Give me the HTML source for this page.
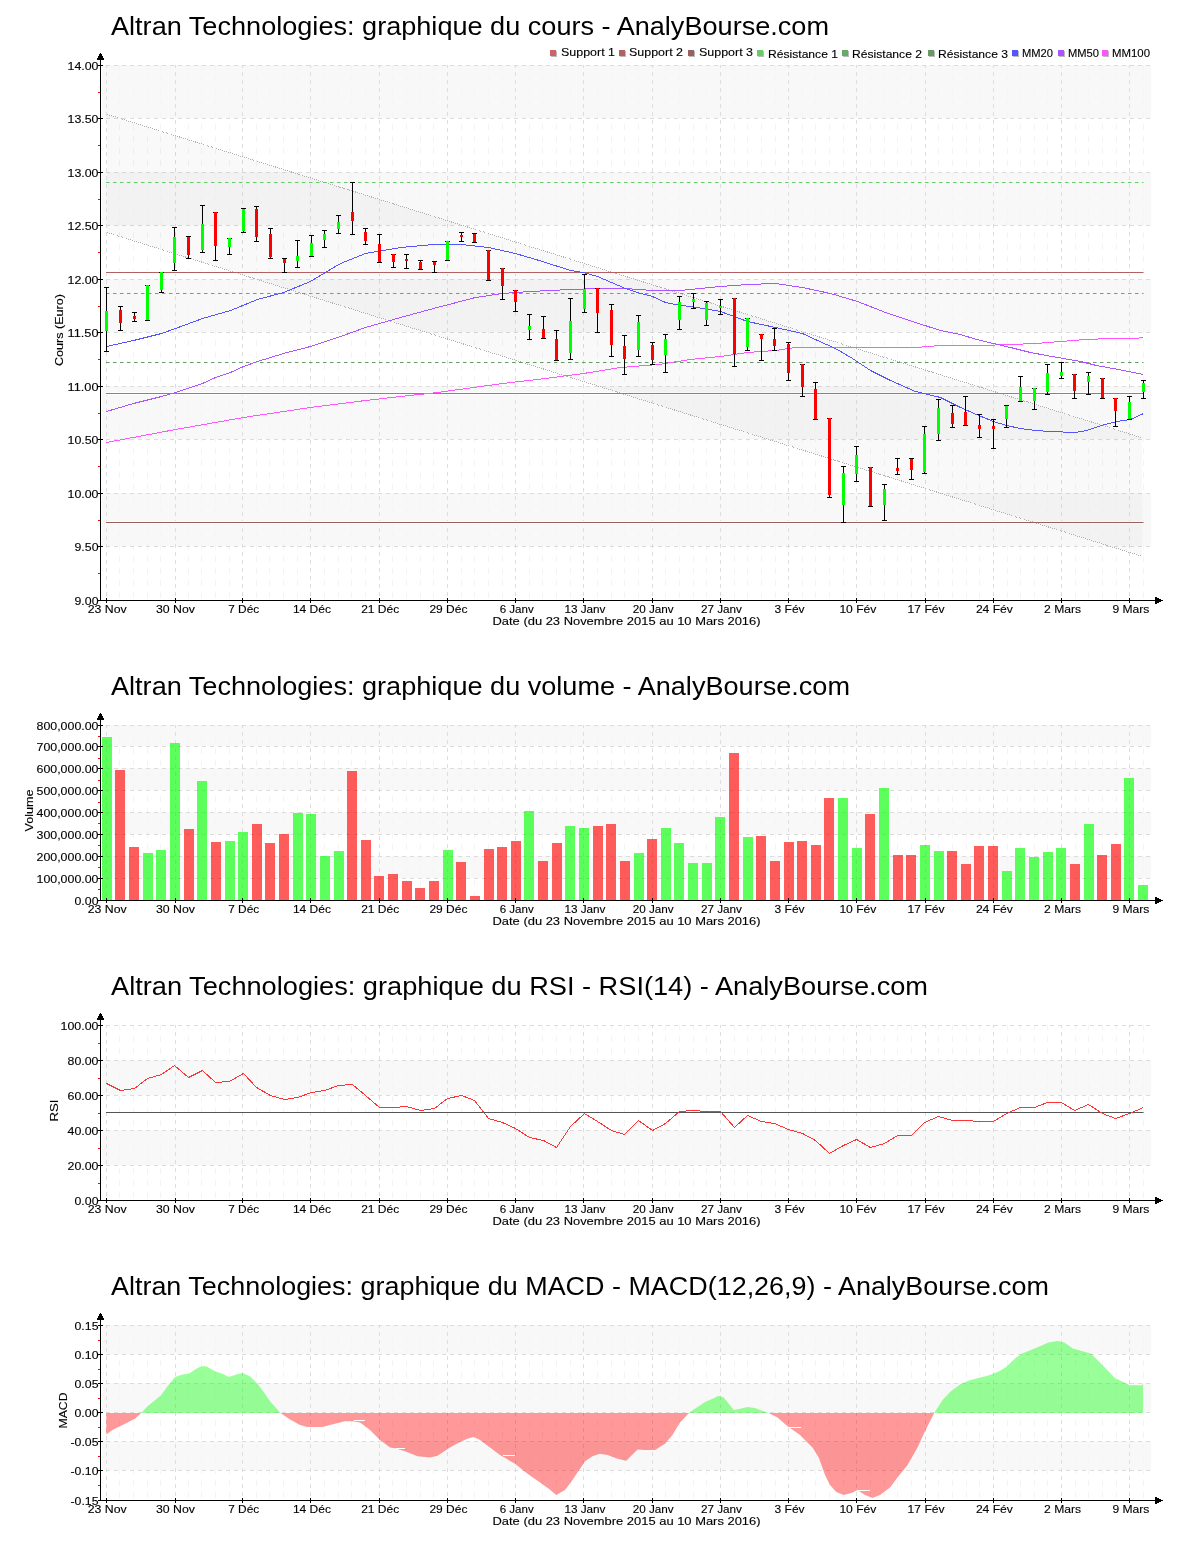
<!DOCTYPE html>
<html><head><meta charset="utf-8"><title>Altran Technologies - AnalyBourse</title>
<style>html,body{margin:0;padding:0;background:#fff;} svg{display:block;will-change:transform;}</style></head>
<body>
<svg width="1200" height="1550" viewBox="0 0 1200 1550" font-family='"Liberation Sans", sans-serif' fill="#000">
<rect width="1200" height="1550" fill="#fff"/>
<rect x="102" y="493" width="1049" height="53" fill="#f8f8f8"/>
<rect x="102" y="386" width="1049" height="53" fill="#f8f8f8"/>
<rect x="102" y="279" width="1049" height="53" fill="#f8f8f8"/>
<rect x="102" y="172" width="1049" height="53" fill="#f8f8f8"/>
<rect x="102" y="65" width="1049" height="53" fill="#f8f8f8"/>
<line x1="106.5" y1="65" x2="106.5" y2="600" stroke="#dedede" stroke-width="1" stroke-dasharray="4 4" stroke-dashoffset="1"/>
<line x1="119.5" y1="65" x2="119.5" y2="600" stroke="#f4f4f4" stroke-width="1" stroke-dasharray="6 6" stroke-dashoffset="1"/>
<line x1="133.5" y1="65" x2="133.5" y2="600" stroke="#f4f4f4" stroke-width="1" stroke-dasharray="6 6" stroke-dashoffset="1"/>
<line x1="147.5" y1="65" x2="147.5" y2="600" stroke="#f4f4f4" stroke-width="1" stroke-dasharray="6 6" stroke-dashoffset="1"/>
<line x1="160.5" y1="65" x2="160.5" y2="600" stroke="#f4f4f4" stroke-width="1" stroke-dasharray="6 6" stroke-dashoffset="1"/>
<line x1="175.5" y1="65" x2="175.5" y2="600" stroke="#dedede" stroke-width="1" stroke-dasharray="4 4" stroke-dashoffset="1"/>
<line x1="188.5" y1="65" x2="188.5" y2="600" stroke="#f4f4f4" stroke-width="1" stroke-dasharray="6 6" stroke-dashoffset="1"/>
<line x1="201.5" y1="65" x2="201.5" y2="600" stroke="#f4f4f4" stroke-width="1" stroke-dasharray="6 6" stroke-dashoffset="1"/>
<line x1="215.5" y1="65" x2="215.5" y2="600" stroke="#f4f4f4" stroke-width="1" stroke-dasharray="6 6" stroke-dashoffset="1"/>
<line x1="229.5" y1="65" x2="229.5" y2="600" stroke="#f4f4f4" stroke-width="1" stroke-dasharray="6 6" stroke-dashoffset="1"/>
<line x1="242.5" y1="65" x2="242.5" y2="600" stroke="#dedede" stroke-width="1" stroke-dasharray="4 4" stroke-dashoffset="1"/>
<line x1="256.5" y1="65" x2="256.5" y2="600" stroke="#f4f4f4" stroke-width="1" stroke-dasharray="6 6" stroke-dashoffset="1"/>
<line x1="269.5" y1="65" x2="269.5" y2="600" stroke="#f4f4f4" stroke-width="1" stroke-dasharray="6 6" stroke-dashoffset="1"/>
<line x1="283.5" y1="65" x2="283.5" y2="600" stroke="#f4f4f4" stroke-width="1" stroke-dasharray="6 6" stroke-dashoffset="1"/>
<line x1="297.5" y1="65" x2="297.5" y2="600" stroke="#f4f4f4" stroke-width="1" stroke-dasharray="6 6" stroke-dashoffset="1"/>
<line x1="310.5" y1="65" x2="310.5" y2="600" stroke="#dedede" stroke-width="1" stroke-dasharray="4 4" stroke-dashoffset="1"/>
<line x1="324.5" y1="65" x2="324.5" y2="600" stroke="#f4f4f4" stroke-width="1" stroke-dasharray="6 6" stroke-dashoffset="1"/>
<line x1="338.5" y1="65" x2="338.5" y2="600" stroke="#f4f4f4" stroke-width="1" stroke-dasharray="6 6" stroke-dashoffset="1"/>
<line x1="351.5" y1="65" x2="351.5" y2="600" stroke="#f4f4f4" stroke-width="1" stroke-dasharray="6 6" stroke-dashoffset="1"/>
<line x1="365.5" y1="65" x2="365.5" y2="600" stroke="#f4f4f4" stroke-width="1" stroke-dasharray="6 6" stroke-dashoffset="1"/>
<line x1="379.5" y1="65" x2="379.5" y2="600" stroke="#dedede" stroke-width="1" stroke-dasharray="4 4" stroke-dashoffset="1"/>
<line x1="392.5" y1="65" x2="392.5" y2="600" stroke="#f4f4f4" stroke-width="1" stroke-dasharray="6 6" stroke-dashoffset="1"/>
<line x1="406.5" y1="65" x2="406.5" y2="600" stroke="#f4f4f4" stroke-width="1" stroke-dasharray="6 6" stroke-dashoffset="1"/>
<line x1="420.5" y1="65" x2="420.5" y2="600" stroke="#f4f4f4" stroke-width="1" stroke-dasharray="6 6" stroke-dashoffset="1"/>
<line x1="433.5" y1="65" x2="433.5" y2="600" stroke="#f4f4f4" stroke-width="1" stroke-dasharray="6 6" stroke-dashoffset="1"/>
<line x1="447.5" y1="65" x2="447.5" y2="600" stroke="#dedede" stroke-width="1" stroke-dasharray="4 4" stroke-dashoffset="1"/>
<line x1="461.5" y1="65" x2="461.5" y2="600" stroke="#f4f4f4" stroke-width="1" stroke-dasharray="6 6" stroke-dashoffset="1"/>
<line x1="474.5" y1="65" x2="474.5" y2="600" stroke="#f4f4f4" stroke-width="1" stroke-dasharray="6 6" stroke-dashoffset="1"/>
<line x1="488.5" y1="65" x2="488.5" y2="600" stroke="#f4f4f4" stroke-width="1" stroke-dasharray="6 6" stroke-dashoffset="1"/>
<line x1="502.5" y1="65" x2="502.5" y2="600" stroke="#f4f4f4" stroke-width="1" stroke-dasharray="6 6" stroke-dashoffset="1"/>
<line x1="515.5" y1="65" x2="515.5" y2="600" stroke="#dedede" stroke-width="1" stroke-dasharray="4 4" stroke-dashoffset="1"/>
<line x1="529.5" y1="65" x2="529.5" y2="600" stroke="#f4f4f4" stroke-width="1" stroke-dasharray="6 6" stroke-dashoffset="1"/>
<line x1="542.5" y1="65" x2="542.5" y2="600" stroke="#f4f4f4" stroke-width="1" stroke-dasharray="6 6" stroke-dashoffset="1"/>
<line x1="556.5" y1="65" x2="556.5" y2="600" stroke="#f4f4f4" stroke-width="1" stroke-dasharray="6 6" stroke-dashoffset="1"/>
<line x1="570.5" y1="65" x2="570.5" y2="600" stroke="#f4f4f4" stroke-width="1" stroke-dasharray="6 6" stroke-dashoffset="1"/>
<line x1="583.5" y1="65" x2="583.5" y2="600" stroke="#dedede" stroke-width="1" stroke-dasharray="4 4" stroke-dashoffset="1"/>
<line x1="597.5" y1="65" x2="597.5" y2="600" stroke="#f4f4f4" stroke-width="1" stroke-dasharray="6 6" stroke-dashoffset="1"/>
<line x1="611.5" y1="65" x2="611.5" y2="600" stroke="#f4f4f4" stroke-width="1" stroke-dasharray="6 6" stroke-dashoffset="1"/>
<line x1="624.5" y1="65" x2="624.5" y2="600" stroke="#f4f4f4" stroke-width="1" stroke-dasharray="6 6" stroke-dashoffset="1"/>
<line x1="638.5" y1="65" x2="638.5" y2="600" stroke="#f4f4f4" stroke-width="1" stroke-dasharray="6 6" stroke-dashoffset="1"/>
<line x1="652.5" y1="65" x2="652.5" y2="600" stroke="#dedede" stroke-width="1" stroke-dasharray="4 4" stroke-dashoffset="1"/>
<line x1="665.5" y1="65" x2="665.5" y2="600" stroke="#f4f4f4" stroke-width="1" stroke-dasharray="6 6" stroke-dashoffset="1"/>
<line x1="679.5" y1="65" x2="679.5" y2="600" stroke="#f4f4f4" stroke-width="1" stroke-dasharray="6 6" stroke-dashoffset="1"/>
<line x1="693.5" y1="65" x2="693.5" y2="600" stroke="#f4f4f4" stroke-width="1" stroke-dasharray="6 6" stroke-dashoffset="1"/>
<line x1="706.5" y1="65" x2="706.5" y2="600" stroke="#f4f4f4" stroke-width="1" stroke-dasharray="6 6" stroke-dashoffset="1"/>
<line x1="720.5" y1="65" x2="720.5" y2="600" stroke="#dedede" stroke-width="1" stroke-dasharray="4 4" stroke-dashoffset="1"/>
<line x1="734.5" y1="65" x2="734.5" y2="600" stroke="#f4f4f4" stroke-width="1" stroke-dasharray="6 6" stroke-dashoffset="1"/>
<line x1="747.5" y1="65" x2="747.5" y2="600" stroke="#f4f4f4" stroke-width="1" stroke-dasharray="6 6" stroke-dashoffset="1"/>
<line x1="761.5" y1="65" x2="761.5" y2="600" stroke="#f4f4f4" stroke-width="1" stroke-dasharray="6 6" stroke-dashoffset="1"/>
<line x1="775.5" y1="65" x2="775.5" y2="600" stroke="#f4f4f4" stroke-width="1" stroke-dasharray="6 6" stroke-dashoffset="1"/>
<line x1="788.5" y1="65" x2="788.5" y2="600" stroke="#dedede" stroke-width="1" stroke-dasharray="4 4" stroke-dashoffset="1"/>
<line x1="802.5" y1="65" x2="802.5" y2="600" stroke="#f4f4f4" stroke-width="1" stroke-dasharray="6 6" stroke-dashoffset="1"/>
<line x1="815.5" y1="65" x2="815.5" y2="600" stroke="#f4f4f4" stroke-width="1" stroke-dasharray="6 6" stroke-dashoffset="1"/>
<line x1="829.5" y1="65" x2="829.5" y2="600" stroke="#f4f4f4" stroke-width="1" stroke-dasharray="6 6" stroke-dashoffset="1"/>
<line x1="843.5" y1="65" x2="843.5" y2="600" stroke="#f4f4f4" stroke-width="1" stroke-dasharray="6 6" stroke-dashoffset="1"/>
<line x1="856.5" y1="65" x2="856.5" y2="600" stroke="#dedede" stroke-width="1" stroke-dasharray="4 4" stroke-dashoffset="1"/>
<line x1="870.5" y1="65" x2="870.5" y2="600" stroke="#f4f4f4" stroke-width="1" stroke-dasharray="6 6" stroke-dashoffset="1"/>
<line x1="884.5" y1="65" x2="884.5" y2="600" stroke="#f4f4f4" stroke-width="1" stroke-dasharray="6 6" stroke-dashoffset="1"/>
<line x1="897.5" y1="65" x2="897.5" y2="600" stroke="#f4f4f4" stroke-width="1" stroke-dasharray="6 6" stroke-dashoffset="1"/>
<line x1="911.5" y1="65" x2="911.5" y2="600" stroke="#f4f4f4" stroke-width="1" stroke-dasharray="6 6" stroke-dashoffset="1"/>
<line x1="925.5" y1="65" x2="925.5" y2="600" stroke="#dedede" stroke-width="1" stroke-dasharray="4 4" stroke-dashoffset="1"/>
<line x1="938.5" y1="65" x2="938.5" y2="600" stroke="#f4f4f4" stroke-width="1" stroke-dasharray="6 6" stroke-dashoffset="1"/>
<line x1="952.5" y1="65" x2="952.5" y2="600" stroke="#f4f4f4" stroke-width="1" stroke-dasharray="6 6" stroke-dashoffset="1"/>
<line x1="966.5" y1="65" x2="966.5" y2="600" stroke="#f4f4f4" stroke-width="1" stroke-dasharray="6 6" stroke-dashoffset="1"/>
<line x1="979.5" y1="65" x2="979.5" y2="600" stroke="#f4f4f4" stroke-width="1" stroke-dasharray="6 6" stroke-dashoffset="1"/>
<line x1="993.5" y1="65" x2="993.5" y2="600" stroke="#dedede" stroke-width="1" stroke-dasharray="4 4" stroke-dashoffset="1"/>
<line x1="1007.5" y1="65" x2="1007.5" y2="600" stroke="#f4f4f4" stroke-width="1" stroke-dasharray="6 6" stroke-dashoffset="1"/>
<line x1="1020.5" y1="65" x2="1020.5" y2="600" stroke="#f4f4f4" stroke-width="1" stroke-dasharray="6 6" stroke-dashoffset="1"/>
<line x1="1034.5" y1="65" x2="1034.5" y2="600" stroke="#f4f4f4" stroke-width="1" stroke-dasharray="6 6" stroke-dashoffset="1"/>
<line x1="1047.5" y1="65" x2="1047.5" y2="600" stroke="#f4f4f4" stroke-width="1" stroke-dasharray="6 6" stroke-dashoffset="1"/>
<line x1="1061.5" y1="65" x2="1061.5" y2="600" stroke="#dedede" stroke-width="1" stroke-dasharray="4 4" stroke-dashoffset="1"/>
<line x1="1075.5" y1="65" x2="1075.5" y2="600" stroke="#f4f4f4" stroke-width="1" stroke-dasharray="6 6" stroke-dashoffset="1"/>
<line x1="1088.5" y1="65" x2="1088.5" y2="600" stroke="#f4f4f4" stroke-width="1" stroke-dasharray="6 6" stroke-dashoffset="1"/>
<line x1="1102.5" y1="65" x2="1102.5" y2="600" stroke="#f4f4f4" stroke-width="1" stroke-dasharray="6 6" stroke-dashoffset="1"/>
<line x1="1116.5" y1="65" x2="1116.5" y2="600" stroke="#f4f4f4" stroke-width="1" stroke-dasharray="6 6" stroke-dashoffset="1"/>
<line x1="1129.5" y1="65" x2="1129.5" y2="600" stroke="#dedede" stroke-width="1" stroke-dasharray="4 4" stroke-dashoffset="1"/>
<line x1="1143.5" y1="65" x2="1143.5" y2="600" stroke="#f4f4f4" stroke-width="1" stroke-dasharray="6 6" stroke-dashoffset="1"/>
<line x1="106" y1="65.5" x2="1151" y2="65.5" stroke="#dcdcdc" stroke-width="1" stroke-dasharray="4 4"/>
<line x1="106" y1="118.5" x2="1151" y2="118.5" stroke="#dcdcdc" stroke-width="1" stroke-dasharray="4 4"/>
<line x1="106" y1="172.5" x2="1151" y2="172.5" stroke="#dcdcdc" stroke-width="1" stroke-dasharray="4 4"/>
<line x1="106" y1="225.5" x2="1151" y2="225.5" stroke="#dcdcdc" stroke-width="1" stroke-dasharray="4 4"/>
<line x1="106" y1="279.5" x2="1151" y2="279.5" stroke="#dcdcdc" stroke-width="1" stroke-dasharray="4 4"/>
<line x1="106" y1="332.5" x2="1151" y2="332.5" stroke="#dcdcdc" stroke-width="1" stroke-dasharray="4 4"/>
<line x1="106" y1="386.5" x2="1151" y2="386.5" stroke="#dcdcdc" stroke-width="1" stroke-dasharray="4 4"/>
<line x1="106" y1="439.5" x2="1151" y2="439.5" stroke="#dcdcdc" stroke-width="1" stroke-dasharray="4 4"/>
<line x1="106" y1="493.5" x2="1151" y2="493.5" stroke="#dcdcdc" stroke-width="1" stroke-dasharray="4 4"/>
<line x1="106" y1="546.5" x2="1151" y2="546.5" stroke="#dcdcdc" stroke-width="1" stroke-dasharray="4 4"/>
<rect x="106" y="271.0" width="1038" height="3" fill="#fff" shape-rendering="crispEdges"/>
<rect x="106" y="392.0" width="1038" height="3" fill="#fff" shape-rendering="crispEdges"/>
<rect x="106" y="521.0" width="1038" height="3" fill="#fff" shape-rendering="crispEdges"/>
<path d="M106.8,114.3 L1142.1,437.8 L1142.1,556.3 L106.8,232.4 Z" fill="#000" fill-opacity="0.025"/>
<line x1="106.8" y1="114.3" x2="1142.1" y2="437.8" stroke="#b0b0b0" stroke-width="1" stroke-dasharray="1 1.05" shape-rendering="crispEdges"/>
<line x1="106.8" y1="232.4" x2="1142.1" y2="556.3" stroke="#b0b0b0" stroke-width="1" stroke-dasharray="1 1.05" shape-rendering="crispEdges"/>
<line x1="106" y1="182.5" x2="1143.5" y2="182.5" stroke="#66cc66" stroke-width="1" stroke-dasharray="3.5 3.5"/>
<line x1="106" y1="293.5" x2="1143.5" y2="293.5" stroke="#66aa66" stroke-width="1" stroke-dasharray="3.5 3.5"/>
<line x1="106" y1="362.5" x2="1143.5" y2="362.5" stroke="#669966" stroke-width="1" stroke-dasharray="3.5 3.5"/>
<line x1="106" y1="272.5" x2="1143.5" y2="272.5" stroke="#b36060" stroke-width="1"/>
<line x1="106" y1="393.5" x2="1143.5" y2="393.5" stroke="#cc6666" stroke-width="1"/>
<line x1="106" y1="522.5" x2="1143.5" y2="522.5" stroke="#996060" stroke-width="1"/>
<polyline points="106.5,442.5 175.5,429.5 243.5,417.5 310.5,407.5 365.5,400.5 400.5,396.5 437.5,392.5 502.5,383.5 545.5,378.5 583.5,373.5 620.5,367.5 658.5,364.5 690.5,359.5 720.5,356.5 747.5,352.5 775.5,350.5 795.5,347.5 830.5,347.5 865.5,347.5 915.5,347.5 940.5,345.5 980.5,345.5 1010.5,344.5 1035.5,343.5 1060.5,341.5 1085.5,339.5 1110.5,338.5 1135.5,338.5 1143.5,337.5" fill="none" stroke="#ff55ff" stroke-width="1" shape-rendering="crispEdges"/>
<polyline points="106.5,411.5 133.5,403.5 161.5,396.5 175.5,392.5 202.5,383.5 215.5,377.5 230.5,372.5 243.5,366.5 257.5,361.5 283.5,353.5 310.5,346.5 340.5,336.5 365.5,327.5 400.5,317.5 433.5,308.5 475.5,297.5 502.5,293.5 530.5,291.5 570.5,289.5 597.5,288.5 625.5,288.5 652.5,290.5 680.5,290.5 700.5,288.5 720.5,286.5 747.5,284.5 775.5,283.5 802.5,287.5 830.5,293.5 857.5,301.5 885.5,312.5 915.5,322.5 940.5,330.5 960.5,334.5 976.5,339.5 993.5,343.5 1010.5,347.5 1030.5,352.5 1046.5,355.5 1063.5,358.5 1080.5,361.5 1096.5,365.5 1118.5,369.5 1143.5,374.5" fill="none" stroke="#aa55ff" stroke-width="1" shape-rendering="crispEdges"/>
<polyline points="106.5,346.5 133.5,340.5 161.5,333.5 175.5,328.5 202.5,318.5 230.5,310.5 257.5,299.5 283.5,292.5 310.5,281.5 340.5,263.5 365.5,253.5 400.5,247.5 433.5,244.5 461.5,244.5 488.5,247.5 515.5,253.5 542.5,261.5 570.5,270.5 583.5,272.5 597.5,276.5 625.5,288.5 637.5,292.5 652.5,296.5 665.5,302.5 680.5,305.5 690.5,306.5 720.5,311.5 747.5,321.5 775.5,327.5 802.5,333.5 817.5,340.5 835.5,348.5 852.5,358.5 870.5,370.5 890.5,380.5 915.5,391.5 940.5,397.5 960.5,407.5 976.5,414.5 993.5,421.5 1006.5,425.5 1020.5,428.5 1035.5,430.5 1050.5,431.5 1075.5,432.5 1086.5,430.5 1101.5,425.5 1116.5,421.5 1130.5,419.5 1143.5,413.5" fill="none" stroke="#5555ff" stroke-width="1" shape-rendering="crispEdges"/>
<g shape-rendering="crispEdges">
<rect x="106" y="287" width="1" height="65" fill="#000"/>
<rect x="104" y="287" width="5" height="1" fill="#000"/>
<rect x="104" y="351" width="5" height="1" fill="#000"/>
<rect x="105" y="311" width="3" height="20" fill="#00ff00"/>
<rect x="120" y="306" width="1" height="25" fill="#000"/>
<rect x="118" y="306" width="5" height="1" fill="#000"/>
<rect x="118" y="330" width="5" height="1" fill="#000"/>
<rect x="119" y="310" width="3" height="13" fill="#ff0000"/>
<rect x="134" y="312" width="1" height="10" fill="#000"/>
<rect x="132" y="312" width="5" height="1" fill="#000"/>
<rect x="132" y="321" width="5" height="1" fill="#000"/>
<rect x="133" y="316" width="3" height="3" fill="#ff0000"/>
<rect x="147" y="285" width="1" height="36" fill="#000"/>
<rect x="145" y="285" width="5" height="1" fill="#000"/>
<rect x="145" y="320" width="5" height="1" fill="#000"/>
<rect x="146" y="285" width="3" height="35" fill="#00ff00"/>
<rect x="161" y="272" width="1" height="21" fill="#000"/>
<rect x="159" y="272" width="5" height="1" fill="#000"/>
<rect x="159" y="292" width="5" height="1" fill="#000"/>
<rect x="160" y="272" width="3" height="18" fill="#00ff00"/>
<rect x="174" y="227" width="1" height="44" fill="#000"/>
<rect x="172" y="227" width="5" height="1" fill="#000"/>
<rect x="172" y="270" width="5" height="1" fill="#000"/>
<rect x="173" y="237" width="3" height="26" fill="#00ff00"/>
<rect x="188" y="236" width="1" height="23" fill="#000"/>
<rect x="186" y="236" width="5" height="1" fill="#000"/>
<rect x="186" y="258" width="5" height="1" fill="#000"/>
<rect x="187" y="237" width="3" height="18" fill="#ff0000"/>
<rect x="202" y="205" width="1" height="48" fill="#000"/>
<rect x="200" y="205" width="5" height="1" fill="#000"/>
<rect x="200" y="252" width="5" height="1" fill="#000"/>
<rect x="201" y="224" width="3" height="26" fill="#00ff00"/>
<rect x="215" y="212" width="1" height="49" fill="#000"/>
<rect x="213" y="212" width="5" height="1" fill="#000"/>
<rect x="213" y="260" width="5" height="1" fill="#000"/>
<rect x="214" y="212" width="3" height="34" fill="#ff0000"/>
<rect x="229" y="238" width="1" height="17" fill="#000"/>
<rect x="227" y="238" width="5" height="1" fill="#000"/>
<rect x="227" y="254" width="5" height="1" fill="#000"/>
<rect x="228" y="238" width="3" height="9" fill="#00ff00"/>
<rect x="243" y="208" width="1" height="25" fill="#000"/>
<rect x="241" y="208" width="5" height="1" fill="#000"/>
<rect x="241" y="232" width="5" height="1" fill="#000"/>
<rect x="242" y="209" width="3" height="22" fill="#00ff00"/>
<rect x="256" y="206" width="1" height="36" fill="#000"/>
<rect x="254" y="206" width="5" height="1" fill="#000"/>
<rect x="254" y="241" width="5" height="1" fill="#000"/>
<rect x="255" y="209" width="3" height="28" fill="#ff0000"/>
<rect x="270" y="228" width="1" height="31" fill="#000"/>
<rect x="268" y="228" width="5" height="1" fill="#000"/>
<rect x="268" y="258" width="5" height="1" fill="#000"/>
<rect x="269" y="234" width="3" height="23" fill="#ff0000"/>
<rect x="284" y="258" width="1" height="15" fill="#000"/>
<rect x="282" y="258" width="5" height="1" fill="#000"/>
<rect x="282" y="272" width="5" height="1" fill="#000"/>
<rect x="283" y="259" width="3" height="4" fill="#ff0000"/>
<rect x="297" y="240" width="1" height="28" fill="#000"/>
<rect x="295" y="240" width="5" height="1" fill="#000"/>
<rect x="295" y="267" width="5" height="1" fill="#000"/>
<rect x="296" y="256" width="3" height="5" fill="#00ff00"/>
<rect x="311" y="235" width="1" height="22" fill="#000"/>
<rect x="309" y="235" width="5" height="1" fill="#000"/>
<rect x="309" y="256" width="5" height="1" fill="#000"/>
<rect x="310" y="243" width="3" height="13" fill="#00ff00"/>
<rect x="324" y="230" width="1" height="18" fill="#000"/>
<rect x="322" y="230" width="5" height="1" fill="#000"/>
<rect x="322" y="247" width="5" height="1" fill="#000"/>
<rect x="323" y="234" width="3" height="6" fill="#00ff00"/>
<rect x="338" y="215" width="1" height="19" fill="#000"/>
<rect x="336" y="215" width="5" height="1" fill="#000"/>
<rect x="336" y="233" width="5" height="1" fill="#000"/>
<rect x="337" y="222" width="3" height="7" fill="#00ff00"/>
<rect x="352" y="182" width="1" height="53" fill="#000"/>
<rect x="350" y="182" width="5" height="1" fill="#000"/>
<rect x="350" y="234" width="5" height="1" fill="#000"/>
<rect x="351" y="212" width="3" height="9" fill="#ff0000"/>
<rect x="365" y="228" width="1" height="17" fill="#000"/>
<rect x="363" y="228" width="5" height="1" fill="#000"/>
<rect x="363" y="244" width="5" height="1" fill="#000"/>
<rect x="364" y="232" width="3" height="9" fill="#ff0000"/>
<rect x="379" y="234" width="1" height="29" fill="#000"/>
<rect x="377" y="234" width="5" height="1" fill="#000"/>
<rect x="377" y="262" width="5" height="1" fill="#000"/>
<rect x="378" y="244" width="3" height="18" fill="#ff0000"/>
<rect x="393" y="254" width="1" height="14" fill="#000"/>
<rect x="391" y="254" width="5" height="1" fill="#000"/>
<rect x="391" y="267" width="5" height="1" fill="#000"/>
<rect x="392" y="254" width="3" height="8" fill="#ff0000"/>
<rect x="406" y="254" width="1" height="15" fill="#000"/>
<rect x="404" y="254" width="5" height="1" fill="#000"/>
<rect x="404" y="268" width="5" height="1" fill="#000"/>
<rect x="405" y="259" width="3" height="2" fill="#ff0000"/>
<rect x="420" y="260" width="1" height="10" fill="#000"/>
<rect x="418" y="260" width="5" height="1" fill="#000"/>
<rect x="418" y="269" width="5" height="1" fill="#000"/>
<rect x="419" y="262" width="3" height="7" fill="#ff0000"/>
<rect x="434" y="261" width="1" height="12" fill="#000"/>
<rect x="432" y="261" width="5" height="1" fill="#000"/>
<rect x="432" y="272" width="5" height="1" fill="#000"/>
<rect x="433" y="262" width="3" height="3" fill="#ff0000"/>
<rect x="447" y="241" width="1" height="20" fill="#000"/>
<rect x="445" y="241" width="5" height="1" fill="#000"/>
<rect x="445" y="260" width="5" height="1" fill="#000"/>
<rect x="446" y="241" width="3" height="19" fill="#00ff00"/>
<rect x="461" y="232" width="1" height="10" fill="#000"/>
<rect x="459" y="232" width="5" height="1" fill="#000"/>
<rect x="459" y="241" width="5" height="1" fill="#000"/>
<rect x="460" y="235" width="3" height="2" fill="#ff0000"/>
<rect x="474" y="233" width="1" height="10" fill="#000"/>
<rect x="472" y="233" width="5" height="1" fill="#000"/>
<rect x="472" y="242" width="5" height="1" fill="#000"/>
<rect x="473" y="234" width="3" height="8" fill="#ff0000"/>
<rect x="488" y="250" width="1" height="31" fill="#000"/>
<rect x="486" y="250" width="5" height="1" fill="#000"/>
<rect x="486" y="280" width="5" height="1" fill="#000"/>
<rect x="487" y="250" width="3" height="30" fill="#ff0000"/>
<rect x="502" y="268" width="1" height="32" fill="#000"/>
<rect x="500" y="268" width="5" height="1" fill="#000"/>
<rect x="500" y="299" width="5" height="1" fill="#000"/>
<rect x="501" y="268" width="3" height="18" fill="#ff0000"/>
<rect x="515" y="290" width="1" height="22" fill="#000"/>
<rect x="513" y="290" width="5" height="1" fill="#000"/>
<rect x="513" y="311" width="5" height="1" fill="#000"/>
<rect x="514" y="290" width="3" height="12" fill="#ff0000"/>
<rect x="529" y="314" width="1" height="26" fill="#000"/>
<rect x="527" y="314" width="5" height="1" fill="#000"/>
<rect x="527" y="339" width="5" height="1" fill="#000"/>
<rect x="528" y="326" width="3" height="4" fill="#00ff00"/>
<rect x="543" y="316" width="1" height="23" fill="#000"/>
<rect x="541" y="316" width="5" height="1" fill="#000"/>
<rect x="541" y="338" width="5" height="1" fill="#000"/>
<rect x="542" y="329" width="3" height="9" fill="#ff0000"/>
<rect x="556" y="330" width="1" height="31" fill="#000"/>
<rect x="554" y="330" width="5" height="1" fill="#000"/>
<rect x="554" y="360" width="5" height="1" fill="#000"/>
<rect x="555" y="339" width="3" height="21" fill="#ff0000"/>
<rect x="570" y="298" width="1" height="62" fill="#000"/>
<rect x="568" y="298" width="5" height="1" fill="#000"/>
<rect x="568" y="359" width="5" height="1" fill="#000"/>
<rect x="569" y="321" width="3" height="32" fill="#00ff00"/>
<rect x="584" y="274" width="1" height="39" fill="#000"/>
<rect x="582" y="274" width="5" height="1" fill="#000"/>
<rect x="582" y="312" width="5" height="1" fill="#000"/>
<rect x="583" y="289" width="3" height="20" fill="#00ff00"/>
<rect x="597" y="288" width="1" height="45" fill="#000"/>
<rect x="595" y="288" width="5" height="1" fill="#000"/>
<rect x="595" y="332" width="5" height="1" fill="#000"/>
<rect x="596" y="288" width="3" height="25" fill="#ff0000"/>
<rect x="611" y="304" width="1" height="53" fill="#000"/>
<rect x="609" y="304" width="5" height="1" fill="#000"/>
<rect x="609" y="356" width="5" height="1" fill="#000"/>
<rect x="610" y="310" width="3" height="35" fill="#ff0000"/>
<rect x="624" y="335" width="1" height="40" fill="#000"/>
<rect x="622" y="335" width="5" height="1" fill="#000"/>
<rect x="622" y="374" width="5" height="1" fill="#000"/>
<rect x="623" y="346" width="3" height="13" fill="#ff0000"/>
<rect x="638" y="315" width="1" height="42" fill="#000"/>
<rect x="636" y="315" width="5" height="1" fill="#000"/>
<rect x="636" y="356" width="5" height="1" fill="#000"/>
<rect x="637" y="322" width="3" height="28" fill="#00ff00"/>
<rect x="652" y="342" width="1" height="23" fill="#000"/>
<rect x="650" y="342" width="5" height="1" fill="#000"/>
<rect x="650" y="364" width="5" height="1" fill="#000"/>
<rect x="651" y="345" width="3" height="15" fill="#ff0000"/>
<rect x="665" y="334" width="1" height="39" fill="#000"/>
<rect x="663" y="334" width="5" height="1" fill="#000"/>
<rect x="663" y="372" width="5" height="1" fill="#000"/>
<rect x="664" y="339" width="3" height="16" fill="#00ff00"/>
<rect x="679" y="296" width="1" height="34" fill="#000"/>
<rect x="677" y="296" width="5" height="1" fill="#000"/>
<rect x="677" y="329" width="5" height="1" fill="#000"/>
<rect x="678" y="302" width="3" height="18" fill="#00ff00"/>
<rect x="693" y="293" width="1" height="16" fill="#000"/>
<rect x="691" y="293" width="5" height="1" fill="#000"/>
<rect x="691" y="308" width="5" height="1" fill="#000"/>
<rect x="692" y="299" width="3" height="3" fill="#00ff00"/>
<rect x="706" y="301" width="1" height="25" fill="#000"/>
<rect x="704" y="301" width="5" height="1" fill="#000"/>
<rect x="704" y="325" width="5" height="1" fill="#000"/>
<rect x="705" y="303" width="3" height="17" fill="#00ff00"/>
<rect x="720" y="299" width="1" height="16" fill="#000"/>
<rect x="718" y="299" width="5" height="1" fill="#000"/>
<rect x="718" y="314" width="5" height="1" fill="#000"/>
<rect x="719" y="306" width="3" height="2" fill="#00ff00"/>
<rect x="734" y="298" width="1" height="69" fill="#000"/>
<rect x="732" y="298" width="5" height="1" fill="#000"/>
<rect x="732" y="366" width="5" height="1" fill="#000"/>
<rect x="733" y="298" width="3" height="56" fill="#ff0000"/>
<rect x="747" y="318" width="1" height="33" fill="#000"/>
<rect x="745" y="318" width="5" height="1" fill="#000"/>
<rect x="745" y="350" width="5" height="1" fill="#000"/>
<rect x="746" y="318" width="3" height="29" fill="#00ff00"/>
<rect x="761" y="334" width="1" height="27" fill="#000"/>
<rect x="759" y="334" width="5" height="1" fill="#000"/>
<rect x="759" y="360" width="5" height="1" fill="#000"/>
<rect x="760" y="334" width="3" height="5" fill="#ff0000"/>
<rect x="774" y="328" width="1" height="23" fill="#000"/>
<rect x="772" y="328" width="5" height="1" fill="#000"/>
<rect x="772" y="350" width="5" height="1" fill="#000"/>
<rect x="773" y="339" width="3" height="7" fill="#ff0000"/>
<rect x="788" y="342" width="1" height="39" fill="#000"/>
<rect x="786" y="342" width="5" height="1" fill="#000"/>
<rect x="786" y="380" width="5" height="1" fill="#000"/>
<rect x="787" y="344" width="3" height="29" fill="#ff0000"/>
<rect x="802" y="364" width="1" height="33" fill="#000"/>
<rect x="800" y="364" width="5" height="1" fill="#000"/>
<rect x="800" y="396" width="5" height="1" fill="#000"/>
<rect x="801" y="364" width="3" height="23" fill="#ff0000"/>
<rect x="815" y="382" width="1" height="38" fill="#000"/>
<rect x="813" y="382" width="5" height="1" fill="#000"/>
<rect x="813" y="419" width="5" height="1" fill="#000"/>
<rect x="814" y="389" width="3" height="30" fill="#ff0000"/>
<rect x="829" y="418" width="1" height="80" fill="#000"/>
<rect x="827" y="418" width="5" height="1" fill="#000"/>
<rect x="827" y="497" width="5" height="1" fill="#000"/>
<rect x="828" y="418" width="3" height="77" fill="#ff0000"/>
<rect x="843" y="466" width="1" height="57" fill="#000"/>
<rect x="841" y="466" width="5" height="1" fill="#000"/>
<rect x="841" y="522" width="5" height="1" fill="#000"/>
<rect x="842" y="473" width="3" height="32" fill="#00ff00"/>
<rect x="856" y="446" width="1" height="36" fill="#000"/>
<rect x="854" y="446" width="5" height="1" fill="#000"/>
<rect x="854" y="481" width="5" height="1" fill="#000"/>
<rect x="855" y="455" width="3" height="19" fill="#00ff00"/>
<rect x="870" y="467" width="1" height="40" fill="#000"/>
<rect x="868" y="467" width="5" height="1" fill="#000"/>
<rect x="868" y="506" width="5" height="1" fill="#000"/>
<rect x="869" y="467" width="3" height="39" fill="#ff0000"/>
<rect x="884" y="484" width="1" height="37" fill="#000"/>
<rect x="882" y="484" width="5" height="1" fill="#000"/>
<rect x="882" y="520" width="5" height="1" fill="#000"/>
<rect x="883" y="489" width="3" height="16" fill="#00ff00"/>
<rect x="897" y="458" width="1" height="17" fill="#000"/>
<rect x="895" y="458" width="5" height="1" fill="#000"/>
<rect x="895" y="474" width="5" height="1" fill="#000"/>
<rect x="896" y="468" width="3" height="3" fill="#ff0000"/>
<rect x="911" y="458" width="1" height="22" fill="#000"/>
<rect x="909" y="458" width="5" height="1" fill="#000"/>
<rect x="909" y="479" width="5" height="1" fill="#000"/>
<rect x="910" y="459" width="3" height="11" fill="#ff0000"/>
<rect x="924" y="426" width="1" height="48" fill="#000"/>
<rect x="922" y="426" width="5" height="1" fill="#000"/>
<rect x="922" y="473" width="5" height="1" fill="#000"/>
<rect x="923" y="434" width="3" height="38" fill="#00ff00"/>
<rect x="938" y="399" width="1" height="42" fill="#000"/>
<rect x="936" y="399" width="5" height="1" fill="#000"/>
<rect x="936" y="440" width="5" height="1" fill="#000"/>
<rect x="937" y="408" width="3" height="26" fill="#00ff00"/>
<rect x="952" y="405" width="1" height="23" fill="#000"/>
<rect x="950" y="405" width="5" height="1" fill="#000"/>
<rect x="950" y="427" width="5" height="1" fill="#000"/>
<rect x="951" y="413" width="3" height="11" fill="#ff0000"/>
<rect x="965" y="396" width="1" height="30" fill="#000"/>
<rect x="963" y="396" width="5" height="1" fill="#000"/>
<rect x="963" y="425" width="5" height="1" fill="#000"/>
<rect x="964" y="412" width="3" height="13" fill="#ff0000"/>
<rect x="979" y="414" width="1" height="24" fill="#000"/>
<rect x="977" y="414" width="5" height="1" fill="#000"/>
<rect x="977" y="437" width="5" height="1" fill="#000"/>
<rect x="978" y="425" width="3" height="4" fill="#ff0000"/>
<rect x="993" y="419" width="1" height="30" fill="#000"/>
<rect x="991" y="419" width="5" height="1" fill="#000"/>
<rect x="991" y="448" width="5" height="1" fill="#000"/>
<rect x="992" y="426" width="3" height="3" fill="#ff0000"/>
<rect x="1006" y="405" width="1" height="23" fill="#000"/>
<rect x="1004" y="405" width="5" height="1" fill="#000"/>
<rect x="1004" y="427" width="5" height="1" fill="#000"/>
<rect x="1005" y="406" width="3" height="13" fill="#00ff00"/>
<rect x="1020" y="376" width="1" height="26" fill="#000"/>
<rect x="1018" y="376" width="5" height="1" fill="#000"/>
<rect x="1018" y="401" width="5" height="1" fill="#000"/>
<rect x="1019" y="387" width="3" height="14" fill="#00ff00"/>
<rect x="1034" y="388" width="1" height="22" fill="#000"/>
<rect x="1032" y="388" width="5" height="1" fill="#000"/>
<rect x="1032" y="409" width="5" height="1" fill="#000"/>
<rect x="1033" y="388" width="3" height="13" fill="#00ff00"/>
<rect x="1047" y="364" width="1" height="31" fill="#000"/>
<rect x="1045" y="364" width="5" height="1" fill="#000"/>
<rect x="1045" y="394" width="5" height="1" fill="#000"/>
<rect x="1046" y="373" width="3" height="19" fill="#00ff00"/>
<rect x="1061" y="362" width="1" height="17" fill="#000"/>
<rect x="1059" y="362" width="5" height="1" fill="#000"/>
<rect x="1059" y="378" width="5" height="1" fill="#000"/>
<rect x="1060" y="372" width="3" height="4" fill="#00ff00"/>
<rect x="1074" y="374" width="1" height="25" fill="#000"/>
<rect x="1072" y="374" width="5" height="1" fill="#000"/>
<rect x="1072" y="398" width="5" height="1" fill="#000"/>
<rect x="1073" y="374" width="3" height="17" fill="#ff0000"/>
<rect x="1088" y="372" width="1" height="23" fill="#000"/>
<rect x="1086" y="372" width="5" height="1" fill="#000"/>
<rect x="1086" y="394" width="5" height="1" fill="#000"/>
<rect x="1087" y="376" width="3" height="6" fill="#00ff00"/>
<rect x="1102" y="378" width="1" height="21" fill="#000"/>
<rect x="1100" y="378" width="5" height="1" fill="#000"/>
<rect x="1100" y="398" width="5" height="1" fill="#000"/>
<rect x="1101" y="378" width="3" height="20" fill="#ff0000"/>
<rect x="1115" y="398" width="1" height="29" fill="#000"/>
<rect x="1113" y="398" width="5" height="1" fill="#000"/>
<rect x="1113" y="426" width="5" height="1" fill="#000"/>
<rect x="1114" y="398" width="3" height="13" fill="#ff0000"/>
<rect x="1129" y="396" width="1" height="24" fill="#000"/>
<rect x="1127" y="396" width="5" height="1" fill="#000"/>
<rect x="1127" y="419" width="5" height="1" fill="#000"/>
<rect x="1128" y="402" width="3" height="17" fill="#00ff00"/>
<rect x="1143" y="380" width="1" height="19" fill="#000"/>
<rect x="1141" y="380" width="5" height="1" fill="#000"/>
<rect x="1141" y="398" width="5" height="1" fill="#000"/>
<rect x="1142" y="383" width="3" height="9" fill="#00ff00"/>
</g>
<g shape-rendering="crispEdges">
<rect x="100" y="53" width="1" height="548" fill="#000"/>
<rect x="99" y="54" width="3" height="2" fill="#000"/>
<rect x="98" y="56" width="5" height="2" fill="#000"/>
<rect x="97" y="58" width="7" height="2" fill="#000"/>
<rect x="100" y="600" width="1063" height="1" fill="#000"/>
<rect x="1155" y="597" width="2" height="7" fill="#000"/>
<rect x="1157" y="598" width="2" height="5" fill="#000"/>
<rect x="1159" y="599" width="2" height="3" fill="#000"/>
</g>
<rect x="98" y="65" width="5" height="1" fill="#000"/>
<text x="98.5" y="70" font-size="11" text-anchor="end" textLength="31" lengthAdjust="spacingAndGlyphs" stroke="#000" stroke-width="0.12">14.00</text>
<rect x="98" y="118" width="5" height="1" fill="#000"/>
<text x="98.5" y="123" font-size="11" text-anchor="end" textLength="31" lengthAdjust="spacingAndGlyphs" stroke="#000" stroke-width="0.12">13.50</text>
<rect x="98" y="172" width="5" height="1" fill="#000"/>
<text x="98.5" y="177" font-size="11" text-anchor="end" textLength="31" lengthAdjust="spacingAndGlyphs" stroke="#000" stroke-width="0.12">13.00</text>
<rect x="98" y="225" width="5" height="1" fill="#000"/>
<text x="98.5" y="230" font-size="11" text-anchor="end" textLength="31" lengthAdjust="spacingAndGlyphs" stroke="#000" stroke-width="0.12">12.50</text>
<rect x="98" y="279" width="5" height="1" fill="#000"/>
<text x="98.5" y="284" font-size="11" text-anchor="end" textLength="31" lengthAdjust="spacingAndGlyphs" stroke="#000" stroke-width="0.12">12.00</text>
<rect x="98" y="332" width="5" height="1" fill="#000"/>
<text x="98.5" y="337" font-size="11" text-anchor="end" textLength="31" lengthAdjust="spacingAndGlyphs" stroke="#000" stroke-width="0.12">11.50</text>
<rect x="98" y="386" width="5" height="1" fill="#000"/>
<text x="98.5" y="391" font-size="11" text-anchor="end" textLength="31" lengthAdjust="spacingAndGlyphs" stroke="#000" stroke-width="0.12">11.00</text>
<rect x="98" y="439" width="5" height="1" fill="#000"/>
<text x="98.5" y="444" font-size="11" text-anchor="end" textLength="31" lengthAdjust="spacingAndGlyphs" stroke="#000" stroke-width="0.12">10.50</text>
<rect x="98" y="493" width="5" height="1" fill="#000"/>
<text x="98.5" y="498" font-size="11" text-anchor="end" textLength="31" lengthAdjust="spacingAndGlyphs" stroke="#000" stroke-width="0.12">10.00</text>
<rect x="98" y="546" width="5" height="1" fill="#000"/>
<text x="98.5" y="551" font-size="11" text-anchor="end" textLength="24" lengthAdjust="spacingAndGlyphs" stroke="#000" stroke-width="0.12">9.50</text>
<rect x="98" y="600" width="5" height="1" fill="#000"/>
<text x="98.5" y="605" font-size="11" text-anchor="end" textLength="24" lengthAdjust="spacingAndGlyphs" stroke="#000" stroke-width="0.12">9.00</text>
<rect x="98" y="92" width="2" height="1" fill="#ff0000"/>
<rect x="98" y="145" width="2" height="1" fill="#ff0000"/>
<rect x="98" y="199" width="2" height="1" fill="#ff0000"/>
<rect x="98" y="252" width="2" height="1" fill="#ff0000"/>
<rect x="98" y="306" width="2" height="1" fill="#ff0000"/>
<rect x="98" y="359" width="2" height="1" fill="#ff0000"/>
<rect x="98" y="413" width="2" height="1" fill="#ff0000"/>
<rect x="98" y="466" width="2" height="1" fill="#ff0000"/>
<rect x="98" y="520" width="2" height="1" fill="#ff0000"/>
<rect x="98" y="573" width="2" height="1" fill="#ff0000"/>
<rect x="106" y="598" width="1" height="5" fill="#000"/>
<rect x="175" y="598" width="1" height="5" fill="#000"/>
<rect x="242" y="598" width="1" height="5" fill="#000"/>
<rect x="310" y="598" width="1" height="5" fill="#000"/>
<rect x="379" y="598" width="1" height="5" fill="#000"/>
<rect x="447" y="598" width="1" height="5" fill="#000"/>
<rect x="515" y="598" width="1" height="5" fill="#000"/>
<rect x="583" y="598" width="1" height="5" fill="#000"/>
<rect x="652" y="598" width="1" height="5" fill="#000"/>
<rect x="720" y="598" width="1" height="5" fill="#000"/>
<rect x="788" y="598" width="1" height="5" fill="#000"/>
<rect x="856" y="598" width="1" height="5" fill="#000"/>
<rect x="925" y="598" width="1" height="5" fill="#000"/>
<rect x="993" y="598" width="1" height="5" fill="#000"/>
<rect x="1061" y="598" width="1" height="5" fill="#000"/>
<rect x="1129" y="598" width="1" height="5" fill="#000"/>
<text x="107.2" y="613" font-size="11" text-anchor="middle" textLength="39" lengthAdjust="spacingAndGlyphs" stroke="#000" stroke-width="0.12">23 Nov</text>
<text x="175.4" y="613" font-size="11" text-anchor="middle" textLength="39" lengthAdjust="spacingAndGlyphs" stroke="#000" stroke-width="0.12">30 Nov</text>
<text x="243.7" y="613" font-size="11" text-anchor="middle" textLength="31" lengthAdjust="spacingAndGlyphs" stroke="#000" stroke-width="0.12">7 Déc</text>
<text x="311.9" y="613" font-size="11" text-anchor="middle" textLength="38" lengthAdjust="spacingAndGlyphs" stroke="#000" stroke-width="0.12">14 Déc</text>
<text x="380.2" y="613" font-size="11" text-anchor="middle" textLength="38" lengthAdjust="spacingAndGlyphs" stroke="#000" stroke-width="0.12">21 Déc</text>
<text x="448.4" y="613" font-size="11" text-anchor="middle" textLength="38" lengthAdjust="spacingAndGlyphs" stroke="#000" stroke-width="0.12">29 Déc</text>
<text x="516.7" y="613" font-size="11" text-anchor="middle" textLength="34" lengthAdjust="spacingAndGlyphs" stroke="#000" stroke-width="0.12">6 Janv</text>
<text x="584.9" y="613" font-size="11" text-anchor="middle" textLength="41" lengthAdjust="spacingAndGlyphs" stroke="#000" stroke-width="0.12">13 Janv</text>
<text x="653.2" y="613" font-size="11" text-anchor="middle" textLength="41" lengthAdjust="spacingAndGlyphs" stroke="#000" stroke-width="0.12">20 Janv</text>
<text x="721.4" y="613" font-size="11" text-anchor="middle" textLength="41" lengthAdjust="spacingAndGlyphs" stroke="#000" stroke-width="0.12">27 Janv</text>
<text x="789.6" y="613" font-size="11" text-anchor="middle" textLength="30" lengthAdjust="spacingAndGlyphs" stroke="#000" stroke-width="0.12">3 Fév</text>
<text x="857.9" y="613" font-size="11" text-anchor="middle" textLength="37" lengthAdjust="spacingAndGlyphs" stroke="#000" stroke-width="0.12">10 Fév</text>
<text x="926.1" y="613" font-size="11" text-anchor="middle" textLength="37" lengthAdjust="spacingAndGlyphs" stroke="#000" stroke-width="0.12">17 Fév</text>
<text x="994.4" y="613" font-size="11" text-anchor="middle" textLength="37" lengthAdjust="spacingAndGlyphs" stroke="#000" stroke-width="0.12">24 Fév</text>
<text x="1062.6" y="613" font-size="11" text-anchor="middle" textLength="37" lengthAdjust="spacingAndGlyphs" stroke="#000" stroke-width="0.12">2 Mars</text>
<text x="1130.9" y="613" font-size="11" text-anchor="middle" textLength="37" lengthAdjust="spacingAndGlyphs" stroke="#000" stroke-width="0.12">9 Mars</text>
<text x="626.5" y="624.7" font-size="11" text-anchor="middle" textLength="268" lengthAdjust="spacingAndGlyphs" stroke="#000" stroke-width="0.12">Date (du 23 Novembre 2015 au 10 Mars 2016)</text>
<text x="62.5" y="330" font-size="11" text-anchor="middle" textLength="72" lengthAdjust="spacingAndGlyphs" transform="rotate(-90 62.5 330)" stroke="#000" stroke-width="0.12">Cours (Euro)</text>
<text x="111" y="35" font-size="25.5" text-anchor="start" textLength="718" lengthAdjust="spacingAndGlyphs">Altran Technologies: graphique du cours - AnalyBourse.com</text>
<rect x="551" y="51" width="6" height="6" fill="#bbb"/>
<rect x="550" y="50" width="6" height="6" fill="#cc6666"/>
<text x="561" y="56" font-size="11" text-anchor="start" textLength="54" lengthAdjust="spacingAndGlyphs" stroke="#000" stroke-width="0.12">Support 1</text>
<rect x="620" y="51" width="6" height="6" fill="#bbb"/>
<rect x="619" y="50" width="6" height="6" fill="#b36060"/>
<text x="629" y="56" font-size="11" text-anchor="start" textLength="54" lengthAdjust="spacingAndGlyphs" stroke="#000" stroke-width="0.12">Support 2</text>
<rect x="689" y="51" width="6" height="6" fill="#bbb"/>
<rect x="688" y="50" width="6" height="6" fill="#996060"/>
<text x="699" y="56" font-size="11" text-anchor="start" textLength="54" lengthAdjust="spacingAndGlyphs" stroke="#000" stroke-width="0.12">Support 3</text>
<rect x="758" y="51" width="6" height="6" fill="#bbb"/>
<rect x="757" y="50" width="6" height="6" fill="#66cc66"/>
<text x="768" y="57.5" font-size="11" text-anchor="start" textLength="70" lengthAdjust="spacingAndGlyphs" stroke="#000" stroke-width="0.12">Résistance 1</text>
<rect x="843" y="51" width="6" height="6" fill="#bbb"/>
<rect x="842" y="50" width="6" height="6" fill="#66aa66"/>
<text x="852" y="57.5" font-size="11" text-anchor="start" textLength="70" lengthAdjust="spacingAndGlyphs" stroke="#000" stroke-width="0.12">Résistance 2</text>
<rect x="929" y="51" width="6" height="6" fill="#bbb"/>
<rect x="928" y="50" width="6" height="6" fill="#669966"/>
<text x="938" y="57.5" font-size="11" text-anchor="start" textLength="70" lengthAdjust="spacingAndGlyphs" stroke="#000" stroke-width="0.12">Résistance 3</text>
<rect x="1013" y="51" width="6" height="6" fill="#bbb"/>
<rect x="1012" y="50" width="6" height="6" fill="#5555ff"/>
<text x="1022" y="57" font-size="11" text-anchor="start" textLength="31" lengthAdjust="spacingAndGlyphs" stroke="#000" stroke-width="0.12">MM20</text>
<rect x="1059" y="51" width="6" height="6" fill="#bbb"/>
<rect x="1058" y="50" width="6" height="6" fill="#aa55ff"/>
<text x="1068" y="57" font-size="11" text-anchor="start" textLength="31" lengthAdjust="spacingAndGlyphs" stroke="#000" stroke-width="0.12">MM50</text>
<rect x="1103" y="51" width="6" height="6" fill="#bbb"/>
<rect x="1102" y="50" width="6" height="6" fill="#ff55ff"/>
<text x="1112" y="57" font-size="11" text-anchor="start" textLength="38" lengthAdjust="spacingAndGlyphs" stroke="#000" stroke-width="0.12">MM100</text>
<rect x="102" y="856" width="1049" height="22" fill="#f8f8f8"/>
<rect x="102" y="812" width="1049" height="22" fill="#f8f8f8"/>
<rect x="102" y="768" width="1049" height="22" fill="#f8f8f8"/>
<rect x="102" y="725" width="1049" height="21" fill="#f8f8f8"/>
<line x1="106.5" y1="725" x2="106.5" y2="900" stroke="#dedede" stroke-width="1" stroke-dasharray="4 4" stroke-dashoffset="1"/>
<line x1="119.5" y1="725" x2="119.5" y2="900" stroke="#f4f4f4" stroke-width="1" stroke-dasharray="6 6" stroke-dashoffset="1"/>
<line x1="133.5" y1="725" x2="133.5" y2="900" stroke="#f4f4f4" stroke-width="1" stroke-dasharray="6 6" stroke-dashoffset="1"/>
<line x1="147.5" y1="725" x2="147.5" y2="900" stroke="#f4f4f4" stroke-width="1" stroke-dasharray="6 6" stroke-dashoffset="1"/>
<line x1="160.5" y1="725" x2="160.5" y2="900" stroke="#f4f4f4" stroke-width="1" stroke-dasharray="6 6" stroke-dashoffset="1"/>
<line x1="175.5" y1="725" x2="175.5" y2="900" stroke="#dedede" stroke-width="1" stroke-dasharray="4 4" stroke-dashoffset="1"/>
<line x1="188.5" y1="725" x2="188.5" y2="900" stroke="#f4f4f4" stroke-width="1" stroke-dasharray="6 6" stroke-dashoffset="1"/>
<line x1="201.5" y1="725" x2="201.5" y2="900" stroke="#f4f4f4" stroke-width="1" stroke-dasharray="6 6" stroke-dashoffset="1"/>
<line x1="215.5" y1="725" x2="215.5" y2="900" stroke="#f4f4f4" stroke-width="1" stroke-dasharray="6 6" stroke-dashoffset="1"/>
<line x1="229.5" y1="725" x2="229.5" y2="900" stroke="#f4f4f4" stroke-width="1" stroke-dasharray="6 6" stroke-dashoffset="1"/>
<line x1="242.5" y1="725" x2="242.5" y2="900" stroke="#dedede" stroke-width="1" stroke-dasharray="4 4" stroke-dashoffset="1"/>
<line x1="256.5" y1="725" x2="256.5" y2="900" stroke="#f4f4f4" stroke-width="1" stroke-dasharray="6 6" stroke-dashoffset="1"/>
<line x1="269.5" y1="725" x2="269.5" y2="900" stroke="#f4f4f4" stroke-width="1" stroke-dasharray="6 6" stroke-dashoffset="1"/>
<line x1="283.5" y1="725" x2="283.5" y2="900" stroke="#f4f4f4" stroke-width="1" stroke-dasharray="6 6" stroke-dashoffset="1"/>
<line x1="297.5" y1="725" x2="297.5" y2="900" stroke="#f4f4f4" stroke-width="1" stroke-dasharray="6 6" stroke-dashoffset="1"/>
<line x1="310.5" y1="725" x2="310.5" y2="900" stroke="#dedede" stroke-width="1" stroke-dasharray="4 4" stroke-dashoffset="1"/>
<line x1="324.5" y1="725" x2="324.5" y2="900" stroke="#f4f4f4" stroke-width="1" stroke-dasharray="6 6" stroke-dashoffset="1"/>
<line x1="338.5" y1="725" x2="338.5" y2="900" stroke="#f4f4f4" stroke-width="1" stroke-dasharray="6 6" stroke-dashoffset="1"/>
<line x1="351.5" y1="725" x2="351.5" y2="900" stroke="#f4f4f4" stroke-width="1" stroke-dasharray="6 6" stroke-dashoffset="1"/>
<line x1="365.5" y1="725" x2="365.5" y2="900" stroke="#f4f4f4" stroke-width="1" stroke-dasharray="6 6" stroke-dashoffset="1"/>
<line x1="379.5" y1="725" x2="379.5" y2="900" stroke="#dedede" stroke-width="1" stroke-dasharray="4 4" stroke-dashoffset="1"/>
<line x1="392.5" y1="725" x2="392.5" y2="900" stroke="#f4f4f4" stroke-width="1" stroke-dasharray="6 6" stroke-dashoffset="1"/>
<line x1="406.5" y1="725" x2="406.5" y2="900" stroke="#f4f4f4" stroke-width="1" stroke-dasharray="6 6" stroke-dashoffset="1"/>
<line x1="420.5" y1="725" x2="420.5" y2="900" stroke="#f4f4f4" stroke-width="1" stroke-dasharray="6 6" stroke-dashoffset="1"/>
<line x1="433.5" y1="725" x2="433.5" y2="900" stroke="#f4f4f4" stroke-width="1" stroke-dasharray="6 6" stroke-dashoffset="1"/>
<line x1="447.5" y1="725" x2="447.5" y2="900" stroke="#dedede" stroke-width="1" stroke-dasharray="4 4" stroke-dashoffset="1"/>
<line x1="461.5" y1="725" x2="461.5" y2="900" stroke="#f4f4f4" stroke-width="1" stroke-dasharray="6 6" stroke-dashoffset="1"/>
<line x1="474.5" y1="725" x2="474.5" y2="900" stroke="#f4f4f4" stroke-width="1" stroke-dasharray="6 6" stroke-dashoffset="1"/>
<line x1="488.5" y1="725" x2="488.5" y2="900" stroke="#f4f4f4" stroke-width="1" stroke-dasharray="6 6" stroke-dashoffset="1"/>
<line x1="502.5" y1="725" x2="502.5" y2="900" stroke="#f4f4f4" stroke-width="1" stroke-dasharray="6 6" stroke-dashoffset="1"/>
<line x1="515.5" y1="725" x2="515.5" y2="900" stroke="#dedede" stroke-width="1" stroke-dasharray="4 4" stroke-dashoffset="1"/>
<line x1="529.5" y1="725" x2="529.5" y2="900" stroke="#f4f4f4" stroke-width="1" stroke-dasharray="6 6" stroke-dashoffset="1"/>
<line x1="542.5" y1="725" x2="542.5" y2="900" stroke="#f4f4f4" stroke-width="1" stroke-dasharray="6 6" stroke-dashoffset="1"/>
<line x1="556.5" y1="725" x2="556.5" y2="900" stroke="#f4f4f4" stroke-width="1" stroke-dasharray="6 6" stroke-dashoffset="1"/>
<line x1="570.5" y1="725" x2="570.5" y2="900" stroke="#f4f4f4" stroke-width="1" stroke-dasharray="6 6" stroke-dashoffset="1"/>
<line x1="583.5" y1="725" x2="583.5" y2="900" stroke="#dedede" stroke-width="1" stroke-dasharray="4 4" stroke-dashoffset="1"/>
<line x1="597.5" y1="725" x2="597.5" y2="900" stroke="#f4f4f4" stroke-width="1" stroke-dasharray="6 6" stroke-dashoffset="1"/>
<line x1="611.5" y1="725" x2="611.5" y2="900" stroke="#f4f4f4" stroke-width="1" stroke-dasharray="6 6" stroke-dashoffset="1"/>
<line x1="624.5" y1="725" x2="624.5" y2="900" stroke="#f4f4f4" stroke-width="1" stroke-dasharray="6 6" stroke-dashoffset="1"/>
<line x1="638.5" y1="725" x2="638.5" y2="900" stroke="#f4f4f4" stroke-width="1" stroke-dasharray="6 6" stroke-dashoffset="1"/>
<line x1="652.5" y1="725" x2="652.5" y2="900" stroke="#dedede" stroke-width="1" stroke-dasharray="4 4" stroke-dashoffset="1"/>
<line x1="665.5" y1="725" x2="665.5" y2="900" stroke="#f4f4f4" stroke-width="1" stroke-dasharray="6 6" stroke-dashoffset="1"/>
<line x1="679.5" y1="725" x2="679.5" y2="900" stroke="#f4f4f4" stroke-width="1" stroke-dasharray="6 6" stroke-dashoffset="1"/>
<line x1="693.5" y1="725" x2="693.5" y2="900" stroke="#f4f4f4" stroke-width="1" stroke-dasharray="6 6" stroke-dashoffset="1"/>
<line x1="706.5" y1="725" x2="706.5" y2="900" stroke="#f4f4f4" stroke-width="1" stroke-dasharray="6 6" stroke-dashoffset="1"/>
<line x1="720.5" y1="725" x2="720.5" y2="900" stroke="#dedede" stroke-width="1" stroke-dasharray="4 4" stroke-dashoffset="1"/>
<line x1="734.5" y1="725" x2="734.5" y2="900" stroke="#f4f4f4" stroke-width="1" stroke-dasharray="6 6" stroke-dashoffset="1"/>
<line x1="747.5" y1="725" x2="747.5" y2="900" stroke="#f4f4f4" stroke-width="1" stroke-dasharray="6 6" stroke-dashoffset="1"/>
<line x1="761.5" y1="725" x2="761.5" y2="900" stroke="#f4f4f4" stroke-width="1" stroke-dasharray="6 6" stroke-dashoffset="1"/>
<line x1="775.5" y1="725" x2="775.5" y2="900" stroke="#f4f4f4" stroke-width="1" stroke-dasharray="6 6" stroke-dashoffset="1"/>
<line x1="788.5" y1="725" x2="788.5" y2="900" stroke="#dedede" stroke-width="1" stroke-dasharray="4 4" stroke-dashoffset="1"/>
<line x1="802.5" y1="725" x2="802.5" y2="900" stroke="#f4f4f4" stroke-width="1" stroke-dasharray="6 6" stroke-dashoffset="1"/>
<line x1="815.5" y1="725" x2="815.5" y2="900" stroke="#f4f4f4" stroke-width="1" stroke-dasharray="6 6" stroke-dashoffset="1"/>
<line x1="829.5" y1="725" x2="829.5" y2="900" stroke="#f4f4f4" stroke-width="1" stroke-dasharray="6 6" stroke-dashoffset="1"/>
<line x1="843.5" y1="725" x2="843.5" y2="900" stroke="#f4f4f4" stroke-width="1" stroke-dasharray="6 6" stroke-dashoffset="1"/>
<line x1="856.5" y1="725" x2="856.5" y2="900" stroke="#dedede" stroke-width="1" stroke-dasharray="4 4" stroke-dashoffset="1"/>
<line x1="870.5" y1="725" x2="870.5" y2="900" stroke="#f4f4f4" stroke-width="1" stroke-dasharray="6 6" stroke-dashoffset="1"/>
<line x1="884.5" y1="725" x2="884.5" y2="900" stroke="#f4f4f4" stroke-width="1" stroke-dasharray="6 6" stroke-dashoffset="1"/>
<line x1="897.5" y1="725" x2="897.5" y2="900" stroke="#f4f4f4" stroke-width="1" stroke-dasharray="6 6" stroke-dashoffset="1"/>
<line x1="911.5" y1="725" x2="911.5" y2="900" stroke="#f4f4f4" stroke-width="1" stroke-dasharray="6 6" stroke-dashoffset="1"/>
<line x1="925.5" y1="725" x2="925.5" y2="900" stroke="#dedede" stroke-width="1" stroke-dasharray="4 4" stroke-dashoffset="1"/>
<line x1="938.5" y1="725" x2="938.5" y2="900" stroke="#f4f4f4" stroke-width="1" stroke-dasharray="6 6" stroke-dashoffset="1"/>
<line x1="952.5" y1="725" x2="952.5" y2="900" stroke="#f4f4f4" stroke-width="1" stroke-dasharray="6 6" stroke-dashoffset="1"/>
<line x1="966.5" y1="725" x2="966.5" y2="900" stroke="#f4f4f4" stroke-width="1" stroke-dasharray="6 6" stroke-dashoffset="1"/>
<line x1="979.5" y1="725" x2="979.5" y2="900" stroke="#f4f4f4" stroke-width="1" stroke-dasharray="6 6" stroke-dashoffset="1"/>
<line x1="993.5" y1="725" x2="993.5" y2="900" stroke="#dedede" stroke-width="1" stroke-dasharray="4 4" stroke-dashoffset="1"/>
<line x1="1007.5" y1="725" x2="1007.5" y2="900" stroke="#f4f4f4" stroke-width="1" stroke-dasharray="6 6" stroke-dashoffset="1"/>
<line x1="1020.5" y1="725" x2="1020.5" y2="900" stroke="#f4f4f4" stroke-width="1" stroke-dasharray="6 6" stroke-dashoffset="1"/>
<line x1="1034.5" y1="725" x2="1034.5" y2="900" stroke="#f4f4f4" stroke-width="1" stroke-dasharray="6 6" stroke-dashoffset="1"/>
<line x1="1047.5" y1="725" x2="1047.5" y2="900" stroke="#f4f4f4" stroke-width="1" stroke-dasharray="6 6" stroke-dashoffset="1"/>
<line x1="1061.5" y1="725" x2="1061.5" y2="900" stroke="#dedede" stroke-width="1" stroke-dasharray="4 4" stroke-dashoffset="1"/>
<line x1="1075.5" y1="725" x2="1075.5" y2="900" stroke="#f4f4f4" stroke-width="1" stroke-dasharray="6 6" stroke-dashoffset="1"/>
<line x1="1088.5" y1="725" x2="1088.5" y2="900" stroke="#f4f4f4" stroke-width="1" stroke-dasharray="6 6" stroke-dashoffset="1"/>
<line x1="1102.5" y1="725" x2="1102.5" y2="900" stroke="#f4f4f4" stroke-width="1" stroke-dasharray="6 6" stroke-dashoffset="1"/>
<line x1="1116.5" y1="725" x2="1116.5" y2="900" stroke="#f4f4f4" stroke-width="1" stroke-dasharray="6 6" stroke-dashoffset="1"/>
<line x1="1129.5" y1="725" x2="1129.5" y2="900" stroke="#dedede" stroke-width="1" stroke-dasharray="4 4" stroke-dashoffset="1"/>
<line x1="1143.5" y1="725" x2="1143.5" y2="900" stroke="#f4f4f4" stroke-width="1" stroke-dasharray="6 6" stroke-dashoffset="1"/>
<line x1="106" y1="725.5" x2="1151" y2="725.5" stroke="#dcdcdc" stroke-width="1" stroke-dasharray="4 4"/>
<line x1="106" y1="746.5" x2="1151" y2="746.5" stroke="#dcdcdc" stroke-width="1" stroke-dasharray="4 4"/>
<line x1="106" y1="768.5" x2="1151" y2="768.5" stroke="#dcdcdc" stroke-width="1" stroke-dasharray="4 4"/>
<line x1="106" y1="790.5" x2="1151" y2="790.5" stroke="#dcdcdc" stroke-width="1" stroke-dasharray="4 4"/>
<line x1="106" y1="812.5" x2="1151" y2="812.5" stroke="#dcdcdc" stroke-width="1" stroke-dasharray="4 4"/>
<line x1="106" y1="834.5" x2="1151" y2="834.5" stroke="#dcdcdc" stroke-width="1" stroke-dasharray="4 4"/>
<line x1="106" y1="856.5" x2="1151" y2="856.5" stroke="#dcdcdc" stroke-width="1" stroke-dasharray="4 4"/>
<line x1="106" y1="878.5" x2="1151" y2="878.5" stroke="#dcdcdc" stroke-width="1" stroke-dasharray="4 4"/>
<g shape-rendering="crispEdges">
<rect x="102" y="737" width="10" height="163" fill="rgba(0,255,0,0.64)"/>
<rect x="115" y="770" width="10" height="130" fill="rgba(255,0,0,0.64)"/>
<rect x="129" y="847" width="10" height="53" fill="rgba(255,0,0,0.64)"/>
<rect x="143" y="853" width="10" height="47" fill="rgba(0,255,0,0.64)"/>
<rect x="156" y="850" width="10" height="50" fill="rgba(0,255,0,0.64)"/>
<rect x="170" y="743" width="10" height="157" fill="rgba(0,255,0,0.64)"/>
<rect x="184" y="829" width="10" height="71" fill="rgba(255,0,0,0.64)"/>
<rect x="197" y="781" width="10" height="119" fill="rgba(0,255,0,0.64)"/>
<rect x="211" y="842" width="10" height="58" fill="rgba(255,0,0,0.64)"/>
<rect x="225" y="841" width="10" height="59" fill="rgba(0,255,0,0.64)"/>
<rect x="238" y="832" width="10" height="68" fill="rgba(0,255,0,0.64)"/>
<rect x="252" y="824" width="10" height="76" fill="rgba(255,0,0,0.64)"/>
<rect x="265" y="843" width="10" height="57" fill="rgba(255,0,0,0.64)"/>
<rect x="279" y="834" width="10" height="66" fill="rgba(255,0,0,0.64)"/>
<rect x="293" y="813" width="10" height="87" fill="rgba(0,255,0,0.64)"/>
<rect x="306" y="814" width="10" height="86" fill="rgba(0,255,0,0.64)"/>
<rect x="320" y="856" width="10" height="44" fill="rgba(0,255,0,0.64)"/>
<rect x="334" y="851" width="10" height="49" fill="rgba(0,255,0,0.64)"/>
<rect x="347" y="771" width="10" height="129" fill="rgba(255,0,0,0.64)"/>
<rect x="361" y="840" width="10" height="60" fill="rgba(255,0,0,0.64)"/>
<rect x="374" y="876" width="10" height="24" fill="rgba(255,0,0,0.64)"/>
<rect x="388" y="874" width="10" height="26" fill="rgba(255,0,0,0.64)"/>
<rect x="402" y="881" width="10" height="19" fill="rgba(255,0,0,0.64)"/>
<rect x="415" y="888" width="10" height="12" fill="rgba(255,0,0,0.64)"/>
<rect x="429" y="881" width="10" height="19" fill="rgba(255,0,0,0.64)"/>
<rect x="443" y="850" width="10" height="50" fill="rgba(0,255,0,0.64)"/>
<rect x="456" y="862" width="10" height="38" fill="rgba(255,0,0,0.64)"/>
<rect x="470" y="896" width="10" height="4" fill="rgba(255,0,0,0.64)"/>
<rect x="484" y="849" width="10" height="51" fill="rgba(255,0,0,0.64)"/>
<rect x="497" y="847" width="10" height="53" fill="rgba(255,0,0,0.64)"/>
<rect x="511" y="841" width="10" height="59" fill="rgba(255,0,0,0.64)"/>
<rect x="524" y="811" width="10" height="89" fill="rgba(0,255,0,0.64)"/>
<rect x="538" y="861" width="10" height="39" fill="rgba(255,0,0,0.64)"/>
<rect x="552" y="843" width="10" height="57" fill="rgba(255,0,0,0.64)"/>
<rect x="565" y="826" width="10" height="74" fill="rgba(0,255,0,0.64)"/>
<rect x="579" y="828" width="10" height="72" fill="rgba(0,255,0,0.64)"/>
<rect x="593" y="826" width="10" height="74" fill="rgba(255,0,0,0.64)"/>
<rect x="606" y="824" width="10" height="76" fill="rgba(255,0,0,0.64)"/>
<rect x="620" y="861" width="10" height="39" fill="rgba(255,0,0,0.64)"/>
<rect x="634" y="853" width="10" height="47" fill="rgba(0,255,0,0.64)"/>
<rect x="647" y="839" width="10" height="61" fill="rgba(255,0,0,0.64)"/>
<rect x="661" y="828" width="10" height="72" fill="rgba(0,255,0,0.64)"/>
<rect x="674" y="843" width="10" height="57" fill="rgba(0,255,0,0.64)"/>
<rect x="688" y="863" width="10" height="37" fill="rgba(0,255,0,0.64)"/>
<rect x="702" y="863" width="10" height="37" fill="rgba(0,255,0,0.64)"/>
<rect x="715" y="817" width="10" height="83" fill="rgba(0,255,0,0.64)"/>
<rect x="729" y="753" width="10" height="147" fill="rgba(255,0,0,0.64)"/>
<rect x="743" y="837" width="10" height="63" fill="rgba(0,255,0,0.64)"/>
<rect x="756" y="836" width="10" height="64" fill="rgba(255,0,0,0.64)"/>
<rect x="770" y="861" width="10" height="39" fill="rgba(255,0,0,0.64)"/>
<rect x="784" y="842" width="10" height="58" fill="rgba(255,0,0,0.64)"/>
<rect x="797" y="841" width="10" height="59" fill="rgba(255,0,0,0.64)"/>
<rect x="811" y="845" width="10" height="55" fill="rgba(255,0,0,0.64)"/>
<rect x="824" y="798" width="10" height="102" fill="rgba(255,0,0,0.64)"/>
<rect x="838" y="798" width="10" height="102" fill="rgba(0,255,0,0.64)"/>
<rect x="852" y="848" width="10" height="52" fill="rgba(0,255,0,0.64)"/>
<rect x="865" y="814" width="10" height="86" fill="rgba(255,0,0,0.64)"/>
<rect x="879" y="788" width="10" height="112" fill="rgba(0,255,0,0.64)"/>
<rect x="893" y="855" width="10" height="45" fill="rgba(255,0,0,0.64)"/>
<rect x="906" y="855" width="10" height="45" fill="rgba(255,0,0,0.64)"/>
<rect x="920" y="845" width="10" height="55" fill="rgba(0,255,0,0.64)"/>
<rect x="934" y="851" width="10" height="49" fill="rgba(0,255,0,0.64)"/>
<rect x="947" y="851" width="10" height="49" fill="rgba(255,0,0,0.64)"/>
<rect x="961" y="864" width="10" height="36" fill="rgba(255,0,0,0.64)"/>
<rect x="974" y="846" width="10" height="54" fill="rgba(255,0,0,0.64)"/>
<rect x="988" y="846" width="10" height="54" fill="rgba(255,0,0,0.64)"/>
<rect x="1002" y="871" width="10" height="29" fill="rgba(0,255,0,0.64)"/>
<rect x="1015" y="848" width="10" height="52" fill="rgba(0,255,0,0.64)"/>
<rect x="1029" y="857" width="10" height="43" fill="rgba(0,255,0,0.64)"/>
<rect x="1043" y="852" width="10" height="48" fill="rgba(0,255,0,0.64)"/>
<rect x="1056" y="848" width="10" height="52" fill="rgba(0,255,0,0.64)"/>
<rect x="1070" y="864" width="10" height="36" fill="rgba(255,0,0,0.64)"/>
<rect x="1084" y="824" width="10" height="76" fill="rgba(0,255,0,0.64)"/>
<rect x="1097" y="855" width="10" height="45" fill="rgba(255,0,0,0.64)"/>
<rect x="1111" y="844" width="10" height="56" fill="rgba(255,0,0,0.64)"/>
<rect x="1124" y="778" width="10" height="122" fill="rgba(0,255,0,0.64)"/>
<rect x="1138" y="885" width="10" height="15" fill="rgba(0,255,0,0.64)"/>
</g>
<g shape-rendering="crispEdges">
<rect x="100" y="713" width="1" height="188" fill="#000"/>
<rect x="99" y="714" width="3" height="2" fill="#000"/>
<rect x="98" y="716" width="5" height="2" fill="#000"/>
<rect x="97" y="718" width="7" height="2" fill="#000"/>
<rect x="100" y="900" width="1063" height="1" fill="#000"/>
<rect x="1155" y="897" width="2" height="7" fill="#000"/>
<rect x="1157" y="898" width="2" height="5" fill="#000"/>
<rect x="1159" y="899" width="2" height="3" fill="#000"/>
</g>
<rect x="98" y="725" width="5" height="1" fill="#000"/>
<text x="98.5" y="730" font-size="11" text-anchor="end" textLength="62" lengthAdjust="spacingAndGlyphs" stroke="#000" stroke-width="0.12">800,000.00</text>
<rect x="98" y="746" width="5" height="1" fill="#000"/>
<text x="98.5" y="751" font-size="11" text-anchor="end" textLength="62" lengthAdjust="spacingAndGlyphs" stroke="#000" stroke-width="0.12">700,000.00</text>
<rect x="98" y="768" width="5" height="1" fill="#000"/>
<text x="98.5" y="773" font-size="11" text-anchor="end" textLength="62" lengthAdjust="spacingAndGlyphs" stroke="#000" stroke-width="0.12">600,000.00</text>
<rect x="98" y="790" width="5" height="1" fill="#000"/>
<text x="98.5" y="795" font-size="11" text-anchor="end" textLength="62" lengthAdjust="spacingAndGlyphs" stroke="#000" stroke-width="0.12">500,000.00</text>
<rect x="98" y="812" width="5" height="1" fill="#000"/>
<text x="98.5" y="817" font-size="11" text-anchor="end" textLength="62" lengthAdjust="spacingAndGlyphs" stroke="#000" stroke-width="0.12">400,000.00</text>
<rect x="98" y="834" width="5" height="1" fill="#000"/>
<text x="98.5" y="839" font-size="11" text-anchor="end" textLength="62" lengthAdjust="spacingAndGlyphs" stroke="#000" stroke-width="0.12">300,000.00</text>
<rect x="98" y="856" width="5" height="1" fill="#000"/>
<text x="98.5" y="861" font-size="11" text-anchor="end" textLength="62" lengthAdjust="spacingAndGlyphs" stroke="#000" stroke-width="0.12">200,000.00</text>
<rect x="98" y="878" width="5" height="1" fill="#000"/>
<text x="98.5" y="883" font-size="11" text-anchor="end" textLength="62" lengthAdjust="spacingAndGlyphs" stroke="#000" stroke-width="0.12">100,000.00</text>
<rect x="98" y="900" width="5" height="1" fill="#000"/>
<text x="98.5" y="905" font-size="11" text-anchor="end" textLength="24" lengthAdjust="spacingAndGlyphs" stroke="#000" stroke-width="0.12">0.00</text>
<rect x="98" y="736" width="2" height="1" fill="#ff0000"/>
<rect x="98" y="758" width="2" height="1" fill="#ff0000"/>
<rect x="98" y="780" width="2" height="1" fill="#ff0000"/>
<rect x="98" y="802" width="2" height="1" fill="#ff0000"/>
<rect x="98" y="823" width="2" height="1" fill="#ff0000"/>
<rect x="98" y="845" width="2" height="1" fill="#ff0000"/>
<rect x="98" y="867" width="2" height="1" fill="#ff0000"/>
<rect x="98" y="889" width="2" height="1" fill="#ff0000"/>
<rect x="106" y="898" width="1" height="5" fill="#000"/>
<rect x="175" y="898" width="1" height="5" fill="#000"/>
<rect x="242" y="898" width="1" height="5" fill="#000"/>
<rect x="310" y="898" width="1" height="5" fill="#000"/>
<rect x="379" y="898" width="1" height="5" fill="#000"/>
<rect x="447" y="898" width="1" height="5" fill="#000"/>
<rect x="515" y="898" width="1" height="5" fill="#000"/>
<rect x="583" y="898" width="1" height="5" fill="#000"/>
<rect x="652" y="898" width="1" height="5" fill="#000"/>
<rect x="720" y="898" width="1" height="5" fill="#000"/>
<rect x="788" y="898" width="1" height="5" fill="#000"/>
<rect x="856" y="898" width="1" height="5" fill="#000"/>
<rect x="925" y="898" width="1" height="5" fill="#000"/>
<rect x="993" y="898" width="1" height="5" fill="#000"/>
<rect x="1061" y="898" width="1" height="5" fill="#000"/>
<rect x="1129" y="898" width="1" height="5" fill="#000"/>
<text x="107.2" y="913" font-size="11" text-anchor="middle" textLength="39" lengthAdjust="spacingAndGlyphs" stroke="#000" stroke-width="0.12">23 Nov</text>
<text x="175.4" y="913" font-size="11" text-anchor="middle" textLength="39" lengthAdjust="spacingAndGlyphs" stroke="#000" stroke-width="0.12">30 Nov</text>
<text x="243.7" y="913" font-size="11" text-anchor="middle" textLength="31" lengthAdjust="spacingAndGlyphs" stroke="#000" stroke-width="0.12">7 Déc</text>
<text x="311.9" y="913" font-size="11" text-anchor="middle" textLength="38" lengthAdjust="spacingAndGlyphs" stroke="#000" stroke-width="0.12">14 Déc</text>
<text x="380.2" y="913" font-size="11" text-anchor="middle" textLength="38" lengthAdjust="spacingAndGlyphs" stroke="#000" stroke-width="0.12">21 Déc</text>
<text x="448.4" y="913" font-size="11" text-anchor="middle" textLength="38" lengthAdjust="spacingAndGlyphs" stroke="#000" stroke-width="0.12">29 Déc</text>
<text x="516.7" y="913" font-size="11" text-anchor="middle" textLength="34" lengthAdjust="spacingAndGlyphs" stroke="#000" stroke-width="0.12">6 Janv</text>
<text x="584.9" y="913" font-size="11" text-anchor="middle" textLength="41" lengthAdjust="spacingAndGlyphs" stroke="#000" stroke-width="0.12">13 Janv</text>
<text x="653.2" y="913" font-size="11" text-anchor="middle" textLength="41" lengthAdjust="spacingAndGlyphs" stroke="#000" stroke-width="0.12">20 Janv</text>
<text x="721.4" y="913" font-size="11" text-anchor="middle" textLength="41" lengthAdjust="spacingAndGlyphs" stroke="#000" stroke-width="0.12">27 Janv</text>
<text x="789.6" y="913" font-size="11" text-anchor="middle" textLength="30" lengthAdjust="spacingAndGlyphs" stroke="#000" stroke-width="0.12">3 Fév</text>
<text x="857.9" y="913" font-size="11" text-anchor="middle" textLength="37" lengthAdjust="spacingAndGlyphs" stroke="#000" stroke-width="0.12">10 Fév</text>
<text x="926.1" y="913" font-size="11" text-anchor="middle" textLength="37" lengthAdjust="spacingAndGlyphs" stroke="#000" stroke-width="0.12">17 Fév</text>
<text x="994.4" y="913" font-size="11" text-anchor="middle" textLength="37" lengthAdjust="spacingAndGlyphs" stroke="#000" stroke-width="0.12">24 Fév</text>
<text x="1062.6" y="913" font-size="11" text-anchor="middle" textLength="37" lengthAdjust="spacingAndGlyphs" stroke="#000" stroke-width="0.12">2 Mars</text>
<text x="1130.9" y="913" font-size="11" text-anchor="middle" textLength="37" lengthAdjust="spacingAndGlyphs" stroke="#000" stroke-width="0.12">9 Mars</text>
<text x="626.5" y="924.7" font-size="11" text-anchor="middle" textLength="268" lengthAdjust="spacingAndGlyphs" stroke="#000" stroke-width="0.12">Date (du 23 Novembre 2015 au 10 Mars 2016)</text>
<text x="32.5" y="810.5" font-size="11" text-anchor="middle" textLength="42" lengthAdjust="spacingAndGlyphs" transform="rotate(-90 32.5 810.5)" stroke="#000" stroke-width="0.12">Volume</text>
<text x="111" y="695" font-size="25.5" text-anchor="start" textLength="739" lengthAdjust="spacingAndGlyphs">Altran Technologies: graphique du volume - AnalyBourse.com</text>
<rect x="102" y="1130" width="1049" height="35" fill="#f8f8f8"/>
<rect x="102" y="1060" width="1049" height="35" fill="#f8f8f8"/>
<line x1="106.5" y1="1025" x2="106.5" y2="1200" stroke="#dedede" stroke-width="1" stroke-dasharray="4 4" stroke-dashoffset="1"/>
<line x1="119.5" y1="1025" x2="119.5" y2="1200" stroke="#f4f4f4" stroke-width="1" stroke-dasharray="6 6" stroke-dashoffset="1"/>
<line x1="133.5" y1="1025" x2="133.5" y2="1200" stroke="#f4f4f4" stroke-width="1" stroke-dasharray="6 6" stroke-dashoffset="1"/>
<line x1="147.5" y1="1025" x2="147.5" y2="1200" stroke="#f4f4f4" stroke-width="1" stroke-dasharray="6 6" stroke-dashoffset="1"/>
<line x1="160.5" y1="1025" x2="160.5" y2="1200" stroke="#f4f4f4" stroke-width="1" stroke-dasharray="6 6" stroke-dashoffset="1"/>
<line x1="175.5" y1="1025" x2="175.5" y2="1200" stroke="#dedede" stroke-width="1" stroke-dasharray="4 4" stroke-dashoffset="1"/>
<line x1="188.5" y1="1025" x2="188.5" y2="1200" stroke="#f4f4f4" stroke-width="1" stroke-dasharray="6 6" stroke-dashoffset="1"/>
<line x1="201.5" y1="1025" x2="201.5" y2="1200" stroke="#f4f4f4" stroke-width="1" stroke-dasharray="6 6" stroke-dashoffset="1"/>
<line x1="215.5" y1="1025" x2="215.5" y2="1200" stroke="#f4f4f4" stroke-width="1" stroke-dasharray="6 6" stroke-dashoffset="1"/>
<line x1="229.5" y1="1025" x2="229.5" y2="1200" stroke="#f4f4f4" stroke-width="1" stroke-dasharray="6 6" stroke-dashoffset="1"/>
<line x1="242.5" y1="1025" x2="242.5" y2="1200" stroke="#dedede" stroke-width="1" stroke-dasharray="4 4" stroke-dashoffset="1"/>
<line x1="256.5" y1="1025" x2="256.5" y2="1200" stroke="#f4f4f4" stroke-width="1" stroke-dasharray="6 6" stroke-dashoffset="1"/>
<line x1="269.5" y1="1025" x2="269.5" y2="1200" stroke="#f4f4f4" stroke-width="1" stroke-dasharray="6 6" stroke-dashoffset="1"/>
<line x1="283.5" y1="1025" x2="283.5" y2="1200" stroke="#f4f4f4" stroke-width="1" stroke-dasharray="6 6" stroke-dashoffset="1"/>
<line x1="297.5" y1="1025" x2="297.5" y2="1200" stroke="#f4f4f4" stroke-width="1" stroke-dasharray="6 6" stroke-dashoffset="1"/>
<line x1="310.5" y1="1025" x2="310.5" y2="1200" stroke="#dedede" stroke-width="1" stroke-dasharray="4 4" stroke-dashoffset="1"/>
<line x1="324.5" y1="1025" x2="324.5" y2="1200" stroke="#f4f4f4" stroke-width="1" stroke-dasharray="6 6" stroke-dashoffset="1"/>
<line x1="338.5" y1="1025" x2="338.5" y2="1200" stroke="#f4f4f4" stroke-width="1" stroke-dasharray="6 6" stroke-dashoffset="1"/>
<line x1="351.5" y1="1025" x2="351.5" y2="1200" stroke="#f4f4f4" stroke-width="1" stroke-dasharray="6 6" stroke-dashoffset="1"/>
<line x1="365.5" y1="1025" x2="365.5" y2="1200" stroke="#f4f4f4" stroke-width="1" stroke-dasharray="6 6" stroke-dashoffset="1"/>
<line x1="379.5" y1="1025" x2="379.5" y2="1200" stroke="#dedede" stroke-width="1" stroke-dasharray="4 4" stroke-dashoffset="1"/>
<line x1="392.5" y1="1025" x2="392.5" y2="1200" stroke="#f4f4f4" stroke-width="1" stroke-dasharray="6 6" stroke-dashoffset="1"/>
<line x1="406.5" y1="1025" x2="406.5" y2="1200" stroke="#f4f4f4" stroke-width="1" stroke-dasharray="6 6" stroke-dashoffset="1"/>
<line x1="420.5" y1="1025" x2="420.5" y2="1200" stroke="#f4f4f4" stroke-width="1" stroke-dasharray="6 6" stroke-dashoffset="1"/>
<line x1="433.5" y1="1025" x2="433.5" y2="1200" stroke="#f4f4f4" stroke-width="1" stroke-dasharray="6 6" stroke-dashoffset="1"/>
<line x1="447.5" y1="1025" x2="447.5" y2="1200" stroke="#dedede" stroke-width="1" stroke-dasharray="4 4" stroke-dashoffset="1"/>
<line x1="461.5" y1="1025" x2="461.5" y2="1200" stroke="#f4f4f4" stroke-width="1" stroke-dasharray="6 6" stroke-dashoffset="1"/>
<line x1="474.5" y1="1025" x2="474.5" y2="1200" stroke="#f4f4f4" stroke-width="1" stroke-dasharray="6 6" stroke-dashoffset="1"/>
<line x1="488.5" y1="1025" x2="488.5" y2="1200" stroke="#f4f4f4" stroke-width="1" stroke-dasharray="6 6" stroke-dashoffset="1"/>
<line x1="502.5" y1="1025" x2="502.5" y2="1200" stroke="#f4f4f4" stroke-width="1" stroke-dasharray="6 6" stroke-dashoffset="1"/>
<line x1="515.5" y1="1025" x2="515.5" y2="1200" stroke="#dedede" stroke-width="1" stroke-dasharray="4 4" stroke-dashoffset="1"/>
<line x1="529.5" y1="1025" x2="529.5" y2="1200" stroke="#f4f4f4" stroke-width="1" stroke-dasharray="6 6" stroke-dashoffset="1"/>
<line x1="542.5" y1="1025" x2="542.5" y2="1200" stroke="#f4f4f4" stroke-width="1" stroke-dasharray="6 6" stroke-dashoffset="1"/>
<line x1="556.5" y1="1025" x2="556.5" y2="1200" stroke="#f4f4f4" stroke-width="1" stroke-dasharray="6 6" stroke-dashoffset="1"/>
<line x1="570.5" y1="1025" x2="570.5" y2="1200" stroke="#f4f4f4" stroke-width="1" stroke-dasharray="6 6" stroke-dashoffset="1"/>
<line x1="583.5" y1="1025" x2="583.5" y2="1200" stroke="#dedede" stroke-width="1" stroke-dasharray="4 4" stroke-dashoffset="1"/>
<line x1="597.5" y1="1025" x2="597.5" y2="1200" stroke="#f4f4f4" stroke-width="1" stroke-dasharray="6 6" stroke-dashoffset="1"/>
<line x1="611.5" y1="1025" x2="611.5" y2="1200" stroke="#f4f4f4" stroke-width="1" stroke-dasharray="6 6" stroke-dashoffset="1"/>
<line x1="624.5" y1="1025" x2="624.5" y2="1200" stroke="#f4f4f4" stroke-width="1" stroke-dasharray="6 6" stroke-dashoffset="1"/>
<line x1="638.5" y1="1025" x2="638.5" y2="1200" stroke="#f4f4f4" stroke-width="1" stroke-dasharray="6 6" stroke-dashoffset="1"/>
<line x1="652.5" y1="1025" x2="652.5" y2="1200" stroke="#dedede" stroke-width="1" stroke-dasharray="4 4" stroke-dashoffset="1"/>
<line x1="665.5" y1="1025" x2="665.5" y2="1200" stroke="#f4f4f4" stroke-width="1" stroke-dasharray="6 6" stroke-dashoffset="1"/>
<line x1="679.5" y1="1025" x2="679.5" y2="1200" stroke="#f4f4f4" stroke-width="1" stroke-dasharray="6 6" stroke-dashoffset="1"/>
<line x1="693.5" y1="1025" x2="693.5" y2="1200" stroke="#f4f4f4" stroke-width="1" stroke-dasharray="6 6" stroke-dashoffset="1"/>
<line x1="706.5" y1="1025" x2="706.5" y2="1200" stroke="#f4f4f4" stroke-width="1" stroke-dasharray="6 6" stroke-dashoffset="1"/>
<line x1="720.5" y1="1025" x2="720.5" y2="1200" stroke="#dedede" stroke-width="1" stroke-dasharray="4 4" stroke-dashoffset="1"/>
<line x1="734.5" y1="1025" x2="734.5" y2="1200" stroke="#f4f4f4" stroke-width="1" stroke-dasharray="6 6" stroke-dashoffset="1"/>
<line x1="747.5" y1="1025" x2="747.5" y2="1200" stroke="#f4f4f4" stroke-width="1" stroke-dasharray="6 6" stroke-dashoffset="1"/>
<line x1="761.5" y1="1025" x2="761.5" y2="1200" stroke="#f4f4f4" stroke-width="1" stroke-dasharray="6 6" stroke-dashoffset="1"/>
<line x1="775.5" y1="1025" x2="775.5" y2="1200" stroke="#f4f4f4" stroke-width="1" stroke-dasharray="6 6" stroke-dashoffset="1"/>
<line x1="788.5" y1="1025" x2="788.5" y2="1200" stroke="#dedede" stroke-width="1" stroke-dasharray="4 4" stroke-dashoffset="1"/>
<line x1="802.5" y1="1025" x2="802.5" y2="1200" stroke="#f4f4f4" stroke-width="1" stroke-dasharray="6 6" stroke-dashoffset="1"/>
<line x1="815.5" y1="1025" x2="815.5" y2="1200" stroke="#f4f4f4" stroke-width="1" stroke-dasharray="6 6" stroke-dashoffset="1"/>
<line x1="829.5" y1="1025" x2="829.5" y2="1200" stroke="#f4f4f4" stroke-width="1" stroke-dasharray="6 6" stroke-dashoffset="1"/>
<line x1="843.5" y1="1025" x2="843.5" y2="1200" stroke="#f4f4f4" stroke-width="1" stroke-dasharray="6 6" stroke-dashoffset="1"/>
<line x1="856.5" y1="1025" x2="856.5" y2="1200" stroke="#dedede" stroke-width="1" stroke-dasharray="4 4" stroke-dashoffset="1"/>
<line x1="870.5" y1="1025" x2="870.5" y2="1200" stroke="#f4f4f4" stroke-width="1" stroke-dasharray="6 6" stroke-dashoffset="1"/>
<line x1="884.5" y1="1025" x2="884.5" y2="1200" stroke="#f4f4f4" stroke-width="1" stroke-dasharray="6 6" stroke-dashoffset="1"/>
<line x1="897.5" y1="1025" x2="897.5" y2="1200" stroke="#f4f4f4" stroke-width="1" stroke-dasharray="6 6" stroke-dashoffset="1"/>
<line x1="911.5" y1="1025" x2="911.5" y2="1200" stroke="#f4f4f4" stroke-width="1" stroke-dasharray="6 6" stroke-dashoffset="1"/>
<line x1="925.5" y1="1025" x2="925.5" y2="1200" stroke="#dedede" stroke-width="1" stroke-dasharray="4 4" stroke-dashoffset="1"/>
<line x1="938.5" y1="1025" x2="938.5" y2="1200" stroke="#f4f4f4" stroke-width="1" stroke-dasharray="6 6" stroke-dashoffset="1"/>
<line x1="952.5" y1="1025" x2="952.5" y2="1200" stroke="#f4f4f4" stroke-width="1" stroke-dasharray="6 6" stroke-dashoffset="1"/>
<line x1="966.5" y1="1025" x2="966.5" y2="1200" stroke="#f4f4f4" stroke-width="1" stroke-dasharray="6 6" stroke-dashoffset="1"/>
<line x1="979.5" y1="1025" x2="979.5" y2="1200" stroke="#f4f4f4" stroke-width="1" stroke-dasharray="6 6" stroke-dashoffset="1"/>
<line x1="993.5" y1="1025" x2="993.5" y2="1200" stroke="#dedede" stroke-width="1" stroke-dasharray="4 4" stroke-dashoffset="1"/>
<line x1="1007.5" y1="1025" x2="1007.5" y2="1200" stroke="#f4f4f4" stroke-width="1" stroke-dasharray="6 6" stroke-dashoffset="1"/>
<line x1="1020.5" y1="1025" x2="1020.5" y2="1200" stroke="#f4f4f4" stroke-width="1" stroke-dasharray="6 6" stroke-dashoffset="1"/>
<line x1="1034.5" y1="1025" x2="1034.5" y2="1200" stroke="#f4f4f4" stroke-width="1" stroke-dasharray="6 6" stroke-dashoffset="1"/>
<line x1="1047.5" y1="1025" x2="1047.5" y2="1200" stroke="#f4f4f4" stroke-width="1" stroke-dasharray="6 6" stroke-dashoffset="1"/>
<line x1="1061.5" y1="1025" x2="1061.5" y2="1200" stroke="#dedede" stroke-width="1" stroke-dasharray="4 4" stroke-dashoffset="1"/>
<line x1="1075.5" y1="1025" x2="1075.5" y2="1200" stroke="#f4f4f4" stroke-width="1" stroke-dasharray="6 6" stroke-dashoffset="1"/>
<line x1="1088.5" y1="1025" x2="1088.5" y2="1200" stroke="#f4f4f4" stroke-width="1" stroke-dasharray="6 6" stroke-dashoffset="1"/>
<line x1="1102.5" y1="1025" x2="1102.5" y2="1200" stroke="#f4f4f4" stroke-width="1" stroke-dasharray="6 6" stroke-dashoffset="1"/>
<line x1="1116.5" y1="1025" x2="1116.5" y2="1200" stroke="#f4f4f4" stroke-width="1" stroke-dasharray="6 6" stroke-dashoffset="1"/>
<line x1="1129.5" y1="1025" x2="1129.5" y2="1200" stroke="#dedede" stroke-width="1" stroke-dasharray="4 4" stroke-dashoffset="1"/>
<line x1="1143.5" y1="1025" x2="1143.5" y2="1200" stroke="#f4f4f4" stroke-width="1" stroke-dasharray="6 6" stroke-dashoffset="1"/>
<line x1="106" y1="1025.5" x2="1151" y2="1025.5" stroke="#dcdcdc" stroke-width="1" stroke-dasharray="4 4"/>
<line x1="106" y1="1060.5" x2="1151" y2="1060.5" stroke="#dcdcdc" stroke-width="1" stroke-dasharray="4 4"/>
<line x1="106" y1="1095.5" x2="1151" y2="1095.5" stroke="#dcdcdc" stroke-width="1" stroke-dasharray="4 4"/>
<line x1="106" y1="1130.5" x2="1151" y2="1130.5" stroke="#dcdcdc" stroke-width="1" stroke-dasharray="4 4"/>
<line x1="106" y1="1165.5" x2="1151" y2="1165.5" stroke="#dcdcdc" stroke-width="1" stroke-dasharray="4 4"/>
<line x1="106" y1="1112.5" x2="1143.5" y2="1112.5" stroke="#555" stroke-width="1"/>
<polyline points="106.5,1083.5 120.5,1090.5 134.5,1088.5 147.5,1078.5 161.5,1074.5 174.5,1065.5 188.5,1077.5 202.5,1070.5 215.5,1082.5 229.5,1081.5 243.5,1073.5 256.5,1087.5 270.5,1095.5 284.5,1099.5 297.5,1097.5 311.5,1092.5 324.5,1090.5 338.5,1085.5 352.5,1084.5 365.5,1095.5 379.5,1107.5 393.5,1107.5 406.5,1106.5 420.5,1110.5 434.5,1108.5 447.5,1098.5 461.5,1095.5 474.5,1100.5 488.5,1118.5 502.5,1122.5 515.5,1128.5 529.5,1137.5 543.5,1140.5 556.5,1147.5 570.5,1126.5 584.5,1113.5 597.5,1121.5 611.5,1130.5 624.5,1134.5 638.5,1120.5 652.5,1130.5 665.5,1123.5 679.5,1111.5 693.5,1110.5 706.5,1111.5 720.5,1111.5 734.5,1127.5 747.5,1115.5 761.5,1121.5 774.5,1123.5 788.5,1129.5 802.5,1133.5 815.5,1140.5 829.5,1153.5 843.5,1145.5 856.5,1139.5 870.5,1147.5 884.5,1143.5 897.5,1135.5 911.5,1135.5 924.5,1122.5 938.5,1116.5 952.5,1120.5 965.5,1120.5 979.5,1121.5 993.5,1121.5 1006.5,1113.5 1020.5,1107.5 1034.5,1107.5 1047.5,1102.5 1061.5,1102.5 1074.5,1110.5 1088.5,1104.5 1102.5,1113.5 1115.5,1118.5 1129.5,1113.5 1143.5,1107.5" fill="none" stroke="#ff3333" stroke-width="1" shape-rendering="crispEdges"/>
<g shape-rendering="crispEdges">
<rect x="100" y="1013" width="1" height="188" fill="#000"/>
<rect x="99" y="1014" width="3" height="2" fill="#000"/>
<rect x="98" y="1016" width="5" height="2" fill="#000"/>
<rect x="97" y="1018" width="7" height="2" fill="#000"/>
<rect x="100" y="1200" width="1063" height="1" fill="#000"/>
<rect x="1155" y="1197" width="2" height="7" fill="#000"/>
<rect x="1157" y="1198" width="2" height="5" fill="#000"/>
<rect x="1159" y="1199" width="2" height="3" fill="#000"/>
</g>
<rect x="98" y="1025" width="5" height="1" fill="#000"/>
<text x="98.5" y="1030" font-size="11" text-anchor="end" textLength="38" lengthAdjust="spacingAndGlyphs" stroke="#000" stroke-width="0.12">100.00</text>
<rect x="98" y="1060" width="5" height="1" fill="#000"/>
<text x="98.5" y="1065" font-size="11" text-anchor="end" textLength="31" lengthAdjust="spacingAndGlyphs" stroke="#000" stroke-width="0.12">80.00</text>
<rect x="98" y="1095" width="5" height="1" fill="#000"/>
<text x="98.5" y="1100" font-size="11" text-anchor="end" textLength="31" lengthAdjust="spacingAndGlyphs" stroke="#000" stroke-width="0.12">60.00</text>
<rect x="98" y="1130" width="5" height="1" fill="#000"/>
<text x="98.5" y="1135" font-size="11" text-anchor="end" textLength="31" lengthAdjust="spacingAndGlyphs" stroke="#000" stroke-width="0.12">40.00</text>
<rect x="98" y="1165" width="5" height="1" fill="#000"/>
<text x="98.5" y="1170" font-size="11" text-anchor="end" textLength="31" lengthAdjust="spacingAndGlyphs" stroke="#000" stroke-width="0.12">20.00</text>
<rect x="98" y="1200" width="5" height="1" fill="#000"/>
<text x="98.5" y="1205" font-size="11" text-anchor="end" textLength="24" lengthAdjust="spacingAndGlyphs" stroke="#000" stroke-width="0.12">0.00</text>
<rect x="98" y="1043" width="2" height="1" fill="#ff0000"/>
<rect x="98" y="1078" width="2" height="1" fill="#ff0000"/>
<rect x="98" y="1113" width="2" height="1" fill="#ff0000"/>
<rect x="98" y="1148" width="2" height="1" fill="#ff0000"/>
<rect x="98" y="1183" width="2" height="1" fill="#ff0000"/>
<rect x="106" y="1198" width="1" height="5" fill="#000"/>
<rect x="175" y="1198" width="1" height="5" fill="#000"/>
<rect x="242" y="1198" width="1" height="5" fill="#000"/>
<rect x="310" y="1198" width="1" height="5" fill="#000"/>
<rect x="379" y="1198" width="1" height="5" fill="#000"/>
<rect x="447" y="1198" width="1" height="5" fill="#000"/>
<rect x="515" y="1198" width="1" height="5" fill="#000"/>
<rect x="583" y="1198" width="1" height="5" fill="#000"/>
<rect x="652" y="1198" width="1" height="5" fill="#000"/>
<rect x="720" y="1198" width="1" height="5" fill="#000"/>
<rect x="788" y="1198" width="1" height="5" fill="#000"/>
<rect x="856" y="1198" width="1" height="5" fill="#000"/>
<rect x="925" y="1198" width="1" height="5" fill="#000"/>
<rect x="993" y="1198" width="1" height="5" fill="#000"/>
<rect x="1061" y="1198" width="1" height="5" fill="#000"/>
<rect x="1129" y="1198" width="1" height="5" fill="#000"/>
<text x="107.2" y="1213" font-size="11" text-anchor="middle" textLength="39" lengthAdjust="spacingAndGlyphs" stroke="#000" stroke-width="0.12">23 Nov</text>
<text x="175.4" y="1213" font-size="11" text-anchor="middle" textLength="39" lengthAdjust="spacingAndGlyphs" stroke="#000" stroke-width="0.12">30 Nov</text>
<text x="243.7" y="1213" font-size="11" text-anchor="middle" textLength="31" lengthAdjust="spacingAndGlyphs" stroke="#000" stroke-width="0.12">7 Déc</text>
<text x="311.9" y="1213" font-size="11" text-anchor="middle" textLength="38" lengthAdjust="spacingAndGlyphs" stroke="#000" stroke-width="0.12">14 Déc</text>
<text x="380.2" y="1213" font-size="11" text-anchor="middle" textLength="38" lengthAdjust="spacingAndGlyphs" stroke="#000" stroke-width="0.12">21 Déc</text>
<text x="448.4" y="1213" font-size="11" text-anchor="middle" textLength="38" lengthAdjust="spacingAndGlyphs" stroke="#000" stroke-width="0.12">29 Déc</text>
<text x="516.7" y="1213" font-size="11" text-anchor="middle" textLength="34" lengthAdjust="spacingAndGlyphs" stroke="#000" stroke-width="0.12">6 Janv</text>
<text x="584.9" y="1213" font-size="11" text-anchor="middle" textLength="41" lengthAdjust="spacingAndGlyphs" stroke="#000" stroke-width="0.12">13 Janv</text>
<text x="653.2" y="1213" font-size="11" text-anchor="middle" textLength="41" lengthAdjust="spacingAndGlyphs" stroke="#000" stroke-width="0.12">20 Janv</text>
<text x="721.4" y="1213" font-size="11" text-anchor="middle" textLength="41" lengthAdjust="spacingAndGlyphs" stroke="#000" stroke-width="0.12">27 Janv</text>
<text x="789.6" y="1213" font-size="11" text-anchor="middle" textLength="30" lengthAdjust="spacingAndGlyphs" stroke="#000" stroke-width="0.12">3 Fév</text>
<text x="857.9" y="1213" font-size="11" text-anchor="middle" textLength="37" lengthAdjust="spacingAndGlyphs" stroke="#000" stroke-width="0.12">10 Fév</text>
<text x="926.1" y="1213" font-size="11" text-anchor="middle" textLength="37" lengthAdjust="spacingAndGlyphs" stroke="#000" stroke-width="0.12">17 Fév</text>
<text x="994.4" y="1213" font-size="11" text-anchor="middle" textLength="37" lengthAdjust="spacingAndGlyphs" stroke="#000" stroke-width="0.12">24 Fév</text>
<text x="1062.6" y="1213" font-size="11" text-anchor="middle" textLength="37" lengthAdjust="spacingAndGlyphs" stroke="#000" stroke-width="0.12">2 Mars</text>
<text x="1130.9" y="1213" font-size="11" text-anchor="middle" textLength="37" lengthAdjust="spacingAndGlyphs" stroke="#000" stroke-width="0.12">9 Mars</text>
<text x="626.5" y="1224.7" font-size="11" text-anchor="middle" textLength="268" lengthAdjust="spacingAndGlyphs" stroke="#000" stroke-width="0.12">Date (du 23 Novembre 2015 au 10 Mars 2016)</text>
<text x="58" y="1110.5" font-size="11" text-anchor="middle" textLength="22" lengthAdjust="spacingAndGlyphs" transform="rotate(-90 58 1110.5)" stroke="#000" stroke-width="0.12">RSI</text>
<text x="111" y="995" font-size="25.5" text-anchor="start" textLength="817" lengthAdjust="spacingAndGlyphs">Altran Technologies: graphique du RSI - RSI(14) - AnalyBourse.com</text>
<rect x="102" y="1441" width="1049" height="29" fill="#f8f8f8"/>
<rect x="102" y="1383" width="1049" height="29" fill="#f8f8f8"/>
<rect x="102" y="1325" width="1049" height="29" fill="#f8f8f8"/>
<line x1="106.5" y1="1325" x2="106.5" y2="1500" stroke="#dedede" stroke-width="1" stroke-dasharray="4 4" stroke-dashoffset="1"/>
<line x1="119.5" y1="1325" x2="119.5" y2="1500" stroke="#f4f4f4" stroke-width="1" stroke-dasharray="6 6" stroke-dashoffset="1"/>
<line x1="133.5" y1="1325" x2="133.5" y2="1500" stroke="#f4f4f4" stroke-width="1" stroke-dasharray="6 6" stroke-dashoffset="1"/>
<line x1="147.5" y1="1325" x2="147.5" y2="1500" stroke="#f4f4f4" stroke-width="1" stroke-dasharray="6 6" stroke-dashoffset="1"/>
<line x1="160.5" y1="1325" x2="160.5" y2="1500" stroke="#f4f4f4" stroke-width="1" stroke-dasharray="6 6" stroke-dashoffset="1"/>
<line x1="175.5" y1="1325" x2="175.5" y2="1500" stroke="#dedede" stroke-width="1" stroke-dasharray="4 4" stroke-dashoffset="1"/>
<line x1="188.5" y1="1325" x2="188.5" y2="1500" stroke="#f4f4f4" stroke-width="1" stroke-dasharray="6 6" stroke-dashoffset="1"/>
<line x1="201.5" y1="1325" x2="201.5" y2="1500" stroke="#f4f4f4" stroke-width="1" stroke-dasharray="6 6" stroke-dashoffset="1"/>
<line x1="215.5" y1="1325" x2="215.5" y2="1500" stroke="#f4f4f4" stroke-width="1" stroke-dasharray="6 6" stroke-dashoffset="1"/>
<line x1="229.5" y1="1325" x2="229.5" y2="1500" stroke="#f4f4f4" stroke-width="1" stroke-dasharray="6 6" stroke-dashoffset="1"/>
<line x1="242.5" y1="1325" x2="242.5" y2="1500" stroke="#dedede" stroke-width="1" stroke-dasharray="4 4" stroke-dashoffset="1"/>
<line x1="256.5" y1="1325" x2="256.5" y2="1500" stroke="#f4f4f4" stroke-width="1" stroke-dasharray="6 6" stroke-dashoffset="1"/>
<line x1="269.5" y1="1325" x2="269.5" y2="1500" stroke="#f4f4f4" stroke-width="1" stroke-dasharray="6 6" stroke-dashoffset="1"/>
<line x1="283.5" y1="1325" x2="283.5" y2="1500" stroke="#f4f4f4" stroke-width="1" stroke-dasharray="6 6" stroke-dashoffset="1"/>
<line x1="297.5" y1="1325" x2="297.5" y2="1500" stroke="#f4f4f4" stroke-width="1" stroke-dasharray="6 6" stroke-dashoffset="1"/>
<line x1="310.5" y1="1325" x2="310.5" y2="1500" stroke="#dedede" stroke-width="1" stroke-dasharray="4 4" stroke-dashoffset="1"/>
<line x1="324.5" y1="1325" x2="324.5" y2="1500" stroke="#f4f4f4" stroke-width="1" stroke-dasharray="6 6" stroke-dashoffset="1"/>
<line x1="338.5" y1="1325" x2="338.5" y2="1500" stroke="#f4f4f4" stroke-width="1" stroke-dasharray="6 6" stroke-dashoffset="1"/>
<line x1="351.5" y1="1325" x2="351.5" y2="1500" stroke="#f4f4f4" stroke-width="1" stroke-dasharray="6 6" stroke-dashoffset="1"/>
<line x1="365.5" y1="1325" x2="365.5" y2="1500" stroke="#f4f4f4" stroke-width="1" stroke-dasharray="6 6" stroke-dashoffset="1"/>
<line x1="379.5" y1="1325" x2="379.5" y2="1500" stroke="#dedede" stroke-width="1" stroke-dasharray="4 4" stroke-dashoffset="1"/>
<line x1="392.5" y1="1325" x2="392.5" y2="1500" stroke="#f4f4f4" stroke-width="1" stroke-dasharray="6 6" stroke-dashoffset="1"/>
<line x1="406.5" y1="1325" x2="406.5" y2="1500" stroke="#f4f4f4" stroke-width="1" stroke-dasharray="6 6" stroke-dashoffset="1"/>
<line x1="420.5" y1="1325" x2="420.5" y2="1500" stroke="#f4f4f4" stroke-width="1" stroke-dasharray="6 6" stroke-dashoffset="1"/>
<line x1="433.5" y1="1325" x2="433.5" y2="1500" stroke="#f4f4f4" stroke-width="1" stroke-dasharray="6 6" stroke-dashoffset="1"/>
<line x1="447.5" y1="1325" x2="447.5" y2="1500" stroke="#dedede" stroke-width="1" stroke-dasharray="4 4" stroke-dashoffset="1"/>
<line x1="461.5" y1="1325" x2="461.5" y2="1500" stroke="#f4f4f4" stroke-width="1" stroke-dasharray="6 6" stroke-dashoffset="1"/>
<line x1="474.5" y1="1325" x2="474.5" y2="1500" stroke="#f4f4f4" stroke-width="1" stroke-dasharray="6 6" stroke-dashoffset="1"/>
<line x1="488.5" y1="1325" x2="488.5" y2="1500" stroke="#f4f4f4" stroke-width="1" stroke-dasharray="6 6" stroke-dashoffset="1"/>
<line x1="502.5" y1="1325" x2="502.5" y2="1500" stroke="#f4f4f4" stroke-width="1" stroke-dasharray="6 6" stroke-dashoffset="1"/>
<line x1="515.5" y1="1325" x2="515.5" y2="1500" stroke="#dedede" stroke-width="1" stroke-dasharray="4 4" stroke-dashoffset="1"/>
<line x1="529.5" y1="1325" x2="529.5" y2="1500" stroke="#f4f4f4" stroke-width="1" stroke-dasharray="6 6" stroke-dashoffset="1"/>
<line x1="542.5" y1="1325" x2="542.5" y2="1500" stroke="#f4f4f4" stroke-width="1" stroke-dasharray="6 6" stroke-dashoffset="1"/>
<line x1="556.5" y1="1325" x2="556.5" y2="1500" stroke="#f4f4f4" stroke-width="1" stroke-dasharray="6 6" stroke-dashoffset="1"/>
<line x1="570.5" y1="1325" x2="570.5" y2="1500" stroke="#f4f4f4" stroke-width="1" stroke-dasharray="6 6" stroke-dashoffset="1"/>
<line x1="583.5" y1="1325" x2="583.5" y2="1500" stroke="#dedede" stroke-width="1" stroke-dasharray="4 4" stroke-dashoffset="1"/>
<line x1="597.5" y1="1325" x2="597.5" y2="1500" stroke="#f4f4f4" stroke-width="1" stroke-dasharray="6 6" stroke-dashoffset="1"/>
<line x1="611.5" y1="1325" x2="611.5" y2="1500" stroke="#f4f4f4" stroke-width="1" stroke-dasharray="6 6" stroke-dashoffset="1"/>
<line x1="624.5" y1="1325" x2="624.5" y2="1500" stroke="#f4f4f4" stroke-width="1" stroke-dasharray="6 6" stroke-dashoffset="1"/>
<line x1="638.5" y1="1325" x2="638.5" y2="1500" stroke="#f4f4f4" stroke-width="1" stroke-dasharray="6 6" stroke-dashoffset="1"/>
<line x1="652.5" y1="1325" x2="652.5" y2="1500" stroke="#dedede" stroke-width="1" stroke-dasharray="4 4" stroke-dashoffset="1"/>
<line x1="665.5" y1="1325" x2="665.5" y2="1500" stroke="#f4f4f4" stroke-width="1" stroke-dasharray="6 6" stroke-dashoffset="1"/>
<line x1="679.5" y1="1325" x2="679.5" y2="1500" stroke="#f4f4f4" stroke-width="1" stroke-dasharray="6 6" stroke-dashoffset="1"/>
<line x1="693.5" y1="1325" x2="693.5" y2="1500" stroke="#f4f4f4" stroke-width="1" stroke-dasharray="6 6" stroke-dashoffset="1"/>
<line x1="706.5" y1="1325" x2="706.5" y2="1500" stroke="#f4f4f4" stroke-width="1" stroke-dasharray="6 6" stroke-dashoffset="1"/>
<line x1="720.5" y1="1325" x2="720.5" y2="1500" stroke="#dedede" stroke-width="1" stroke-dasharray="4 4" stroke-dashoffset="1"/>
<line x1="734.5" y1="1325" x2="734.5" y2="1500" stroke="#f4f4f4" stroke-width="1" stroke-dasharray="6 6" stroke-dashoffset="1"/>
<line x1="747.5" y1="1325" x2="747.5" y2="1500" stroke="#f4f4f4" stroke-width="1" stroke-dasharray="6 6" stroke-dashoffset="1"/>
<line x1="761.5" y1="1325" x2="761.5" y2="1500" stroke="#f4f4f4" stroke-width="1" stroke-dasharray="6 6" stroke-dashoffset="1"/>
<line x1="775.5" y1="1325" x2="775.5" y2="1500" stroke="#f4f4f4" stroke-width="1" stroke-dasharray="6 6" stroke-dashoffset="1"/>
<line x1="788.5" y1="1325" x2="788.5" y2="1500" stroke="#dedede" stroke-width="1" stroke-dasharray="4 4" stroke-dashoffset="1"/>
<line x1="802.5" y1="1325" x2="802.5" y2="1500" stroke="#f4f4f4" stroke-width="1" stroke-dasharray="6 6" stroke-dashoffset="1"/>
<line x1="815.5" y1="1325" x2="815.5" y2="1500" stroke="#f4f4f4" stroke-width="1" stroke-dasharray="6 6" stroke-dashoffset="1"/>
<line x1="829.5" y1="1325" x2="829.5" y2="1500" stroke="#f4f4f4" stroke-width="1" stroke-dasharray="6 6" stroke-dashoffset="1"/>
<line x1="843.5" y1="1325" x2="843.5" y2="1500" stroke="#f4f4f4" stroke-width="1" stroke-dasharray="6 6" stroke-dashoffset="1"/>
<line x1="856.5" y1="1325" x2="856.5" y2="1500" stroke="#dedede" stroke-width="1" stroke-dasharray="4 4" stroke-dashoffset="1"/>
<line x1="870.5" y1="1325" x2="870.5" y2="1500" stroke="#f4f4f4" stroke-width="1" stroke-dasharray="6 6" stroke-dashoffset="1"/>
<line x1="884.5" y1="1325" x2="884.5" y2="1500" stroke="#f4f4f4" stroke-width="1" stroke-dasharray="6 6" stroke-dashoffset="1"/>
<line x1="897.5" y1="1325" x2="897.5" y2="1500" stroke="#f4f4f4" stroke-width="1" stroke-dasharray="6 6" stroke-dashoffset="1"/>
<line x1="911.5" y1="1325" x2="911.5" y2="1500" stroke="#f4f4f4" stroke-width="1" stroke-dasharray="6 6" stroke-dashoffset="1"/>
<line x1="925.5" y1="1325" x2="925.5" y2="1500" stroke="#dedede" stroke-width="1" stroke-dasharray="4 4" stroke-dashoffset="1"/>
<line x1="938.5" y1="1325" x2="938.5" y2="1500" stroke="#f4f4f4" stroke-width="1" stroke-dasharray="6 6" stroke-dashoffset="1"/>
<line x1="952.5" y1="1325" x2="952.5" y2="1500" stroke="#f4f4f4" stroke-width="1" stroke-dasharray="6 6" stroke-dashoffset="1"/>
<line x1="966.5" y1="1325" x2="966.5" y2="1500" stroke="#f4f4f4" stroke-width="1" stroke-dasharray="6 6" stroke-dashoffset="1"/>
<line x1="979.5" y1="1325" x2="979.5" y2="1500" stroke="#f4f4f4" stroke-width="1" stroke-dasharray="6 6" stroke-dashoffset="1"/>
<line x1="993.5" y1="1325" x2="993.5" y2="1500" stroke="#dedede" stroke-width="1" stroke-dasharray="4 4" stroke-dashoffset="1"/>
<line x1="1007.5" y1="1325" x2="1007.5" y2="1500" stroke="#f4f4f4" stroke-width="1" stroke-dasharray="6 6" stroke-dashoffset="1"/>
<line x1="1020.5" y1="1325" x2="1020.5" y2="1500" stroke="#f4f4f4" stroke-width="1" stroke-dasharray="6 6" stroke-dashoffset="1"/>
<line x1="1034.5" y1="1325" x2="1034.5" y2="1500" stroke="#f4f4f4" stroke-width="1" stroke-dasharray="6 6" stroke-dashoffset="1"/>
<line x1="1047.5" y1="1325" x2="1047.5" y2="1500" stroke="#f4f4f4" stroke-width="1" stroke-dasharray="6 6" stroke-dashoffset="1"/>
<line x1="1061.5" y1="1325" x2="1061.5" y2="1500" stroke="#dedede" stroke-width="1" stroke-dasharray="4 4" stroke-dashoffset="1"/>
<line x1="1075.5" y1="1325" x2="1075.5" y2="1500" stroke="#f4f4f4" stroke-width="1" stroke-dasharray="6 6" stroke-dashoffset="1"/>
<line x1="1088.5" y1="1325" x2="1088.5" y2="1500" stroke="#f4f4f4" stroke-width="1" stroke-dasharray="6 6" stroke-dashoffset="1"/>
<line x1="1102.5" y1="1325" x2="1102.5" y2="1500" stroke="#f4f4f4" stroke-width="1" stroke-dasharray="6 6" stroke-dashoffset="1"/>
<line x1="1116.5" y1="1325" x2="1116.5" y2="1500" stroke="#f4f4f4" stroke-width="1" stroke-dasharray="6 6" stroke-dashoffset="1"/>
<line x1="1129.5" y1="1325" x2="1129.5" y2="1500" stroke="#dedede" stroke-width="1" stroke-dasharray="4 4" stroke-dashoffset="1"/>
<line x1="1143.5" y1="1325" x2="1143.5" y2="1500" stroke="#f4f4f4" stroke-width="1" stroke-dasharray="6 6" stroke-dashoffset="1"/>
<line x1="106" y1="1325.5" x2="1151" y2="1325.5" stroke="#dcdcdc" stroke-width="1" stroke-dasharray="4 4"/>
<line x1="106" y1="1354.5" x2="1151" y2="1354.5" stroke="#dcdcdc" stroke-width="1" stroke-dasharray="4 4"/>
<line x1="106" y1="1383.5" x2="1151" y2="1383.5" stroke="#dcdcdc" stroke-width="1" stroke-dasharray="4 4"/>
<line x1="106" y1="1412.5" x2="1151" y2="1412.5" stroke="#dcdcdc" stroke-width="1" stroke-dasharray="4 4"/>
<line x1="106" y1="1441.5" x2="1151" y2="1441.5" stroke="#dcdcdc" stroke-width="1" stroke-dasharray="4 4"/>
<line x1="106" y1="1470.5" x2="1151" y2="1470.5" stroke="#dcdcdc" stroke-width="1" stroke-dasharray="4 4"/>
<clipPath id="cg"><rect x="0" y="0" width="1200" height="1413"/></clipPath>
<clipPath id="cr"><rect x="0" y="1413" width="1200" height="200"/></clipPath>
<path d="M106.25,1413 L106.25,1434.5 L112.5,1430 L120,1426.25 L127.5,1422.5 L135,1418.75 L141.25,1413 L147.5,1406.25 L153.75,1401.25 L161.25,1395 L167.5,1386.25 L175,1377 L182.5,1374.5 L188.75,1373.75 L195,1369.5 L201.25,1366.25 L206.25,1366.25 L215,1371.25 L222.5,1373.75 L228.75,1377 L236.25,1374.5 L242.5,1373 L250,1376.25 L257.5,1383.75 L265,1393.75 L270,1401.25 L280.5,1413 L290,1419.5 L300,1425 L307.5,1427 L322.5,1427 L335,1423.75 L345,1421.25 L352.5,1421.25 L360,1422.5 L370,1430 L380,1440 L390,1447.5 L395,1448.25 L405,1451.25 L417.5,1456.25 L430,1457.5 L437.5,1455.75 L450,1447.5 L460,1442 L467.5,1438.75 L473.75,1437 L480,1440 L490,1447.5 L500,1455 L515,1463.75 L527.5,1473.75 L540,1482.5 L548.75,1488.75 L556.25,1495 L565,1490 L572.5,1480 L580,1468.75 L585,1461.25 L592.5,1456.25 L600,1453.75 L607.5,1455 L617.5,1458.75 L626.25,1460.75 L637.5,1449.5 L645,1450 L655,1450 L665,1443.75 L672.5,1435 L680,1422.5 L682.5,1420 L689.5,1412.5 L697.5,1407 L705,1402 L712.5,1398.75 L718.75,1395.75 L723.75,1397.5 L728.75,1403.75 L733.75,1410 L740,1408.75 L747.5,1407 L755,1408 L761.25,1410.5 L767.5,1412.5 L777.5,1417.5 L787.5,1426.25 L800,1435 L812.5,1447.5 L818.75,1457.5 L825,1475 L830,1485 L836.25,1492 L843.75,1495 L852.5,1492.5 L857.5,1490 L865,1495 L872.5,1498 L880,1495 L890,1487.5 L897.5,1477.5 L907.5,1465 L917.5,1447.5 L925,1431.25 L934.5,1412.5 L942.5,1400 L950.6,1391.5 L960.75,1384.1 L969.75,1380.3 L978.75,1378 L990,1375.1 L999,1371.3 L1005.75,1367.25 L1014.75,1358.7 L1021.5,1353.75 L1032.75,1349.25 L1040.6,1345.9 L1048.5,1342.5 L1057.5,1340.9 L1064.25,1342.5 L1073.25,1348.8 L1080,1350.4 L1091.25,1353.75 L1102.5,1365 L1114.9,1378 L1127.25,1384.1 L1129.5,1385.25 L1141.9,1385.25 L1143,1384.1 L1143,1413 Z" fill="rgba(0,255,0,0.4)" clip-path="url(#cg)"/>
<path d="M106.25,1413 L106.25,1434.5 L112.5,1430 L120,1426.25 L127.5,1422.5 L135,1418.75 L141.25,1413 L147.5,1406.25 L153.75,1401.25 L161.25,1395 L167.5,1386.25 L175,1377 L182.5,1374.5 L188.75,1373.75 L195,1369.5 L201.25,1366.25 L206.25,1366.25 L215,1371.25 L222.5,1373.75 L228.75,1377 L236.25,1374.5 L242.5,1373 L250,1376.25 L257.5,1383.75 L265,1393.75 L270,1401.25 L280.5,1413 L290,1419.5 L300,1425 L307.5,1427 L322.5,1427 L335,1423.75 L345,1421.25 L352.5,1421.25 L360,1422.5 L370,1430 L380,1440 L390,1447.5 L395,1448.25 L405,1451.25 L417.5,1456.25 L430,1457.5 L437.5,1455.75 L450,1447.5 L460,1442 L467.5,1438.75 L473.75,1437 L480,1440 L490,1447.5 L500,1455 L515,1463.75 L527.5,1473.75 L540,1482.5 L548.75,1488.75 L556.25,1495 L565,1490 L572.5,1480 L580,1468.75 L585,1461.25 L592.5,1456.25 L600,1453.75 L607.5,1455 L617.5,1458.75 L626.25,1460.75 L637.5,1449.5 L645,1450 L655,1450 L665,1443.75 L672.5,1435 L680,1422.5 L682.5,1420 L689.5,1412.5 L697.5,1407 L705,1402 L712.5,1398.75 L718.75,1395.75 L723.75,1397.5 L728.75,1403.75 L733.75,1410 L740,1408.75 L747.5,1407 L755,1408 L761.25,1410.5 L767.5,1412.5 L777.5,1417.5 L787.5,1426.25 L800,1435 L812.5,1447.5 L818.75,1457.5 L825,1475 L830,1485 L836.25,1492 L843.75,1495 L852.5,1492.5 L857.5,1490 L865,1495 L872.5,1498 L880,1495 L890,1487.5 L897.5,1477.5 L907.5,1465 L917.5,1447.5 L925,1431.25 L934.5,1412.5 L942.5,1400 L950.6,1391.5 L960.75,1384.1 L969.75,1380.3 L978.75,1378 L990,1375.1 L999,1371.3 L1005.75,1367.25 L1014.75,1358.7 L1021.5,1353.75 L1032.75,1349.25 L1040.6,1345.9 L1048.5,1342.5 L1057.5,1340.9 L1064.25,1342.5 L1073.25,1348.8 L1080,1350.4 L1091.25,1353.75 L1102.5,1365 L1114.9,1378 L1127.25,1384.1 L1129.5,1385.25 L1141.9,1385.25 L1143,1384.1 L1143,1413 Z" fill="rgba(255,0,0,0.4)" clip-path="url(#cr)"/>
<rect x="353.75" y="1420" width="11.25" height="1" fill="#fff" shape-rendering="crispEdges"/>
<rect x="396" y="1448" width="9" height="1" fill="#fff" shape-rendering="crispEdges"/>
<rect x="502.5" y="1455" width="12.5" height="1" fill="#fff" shape-rendering="crispEdges"/>
<rect x="788.75" y="1427" width="12.5" height="1" fill="#fff" shape-rendering="crispEdges"/>
<rect x="857.5" y="1490" width="12.5" height="1" fill="#fff" shape-rendering="crispEdges"/>
<g shape-rendering="crispEdges">
<rect x="100" y="1313" width="1" height="188" fill="#000"/>
<rect x="99" y="1314" width="3" height="2" fill="#000"/>
<rect x="98" y="1316" width="5" height="2" fill="#000"/>
<rect x="97" y="1318" width="7" height="2" fill="#000"/>
<rect x="100" y="1500" width="1063" height="1" fill="#000"/>
<rect x="1155" y="1497" width="2" height="7" fill="#000"/>
<rect x="1157" y="1498" width="2" height="5" fill="#000"/>
<rect x="1159" y="1499" width="2" height="3" fill="#000"/>
</g>
<rect x="98" y="1325" width="5" height="1" fill="#000"/>
<text x="98.5" y="1330" font-size="11" text-anchor="end" textLength="24" lengthAdjust="spacingAndGlyphs" stroke="#000" stroke-width="0.12">0.15</text>
<rect x="98" y="1354" width="5" height="1" fill="#000"/>
<text x="98.5" y="1359" font-size="11" text-anchor="end" textLength="24" lengthAdjust="spacingAndGlyphs" stroke="#000" stroke-width="0.12">0.10</text>
<rect x="98" y="1383" width="5" height="1" fill="#000"/>
<text x="98.5" y="1388" font-size="11" text-anchor="end" textLength="24" lengthAdjust="spacingAndGlyphs" stroke="#000" stroke-width="0.12">0.05</text>
<rect x="98" y="1412" width="5" height="1" fill="#000"/>
<text x="98.5" y="1417" font-size="11" text-anchor="end" textLength="24" lengthAdjust="spacingAndGlyphs" stroke="#000" stroke-width="0.12">0.00</text>
<rect x="98" y="1441" width="5" height="1" fill="#000"/>
<text x="98.5" y="1446" font-size="11" text-anchor="end" textLength="28" lengthAdjust="spacingAndGlyphs" stroke="#000" stroke-width="0.12">-0.05</text>
<rect x="98" y="1470" width="5" height="1" fill="#000"/>
<text x="98.5" y="1475" font-size="11" text-anchor="end" textLength="28" lengthAdjust="spacingAndGlyphs" stroke="#000" stroke-width="0.12">-0.10</text>
<rect x="98" y="1500" width="5" height="1" fill="#000"/>
<text x="98.5" y="1505" font-size="11" text-anchor="end" textLength="28" lengthAdjust="spacingAndGlyphs" stroke="#000" stroke-width="0.12">-0.15</text>
<rect x="98" y="1340" width="2" height="1" fill="#ff0000"/>
<rect x="98" y="1369" width="2" height="1" fill="#ff0000"/>
<rect x="98" y="1398" width="2" height="1" fill="#ff0000"/>
<rect x="98" y="1427" width="2" height="1" fill="#ff0000"/>
<rect x="98" y="1456" width="2" height="1" fill="#ff0000"/>
<rect x="98" y="1485" width="2" height="1" fill="#ff0000"/>
<rect x="106" y="1498" width="1" height="5" fill="#000"/>
<rect x="175" y="1498" width="1" height="5" fill="#000"/>
<rect x="242" y="1498" width="1" height="5" fill="#000"/>
<rect x="310" y="1498" width="1" height="5" fill="#000"/>
<rect x="379" y="1498" width="1" height="5" fill="#000"/>
<rect x="447" y="1498" width="1" height="5" fill="#000"/>
<rect x="515" y="1498" width="1" height="5" fill="#000"/>
<rect x="583" y="1498" width="1" height="5" fill="#000"/>
<rect x="652" y="1498" width="1" height="5" fill="#000"/>
<rect x="720" y="1498" width="1" height="5" fill="#000"/>
<rect x="788" y="1498" width="1" height="5" fill="#000"/>
<rect x="856" y="1498" width="1" height="5" fill="#000"/>
<rect x="925" y="1498" width="1" height="5" fill="#000"/>
<rect x="993" y="1498" width="1" height="5" fill="#000"/>
<rect x="1061" y="1498" width="1" height="5" fill="#000"/>
<rect x="1129" y="1498" width="1" height="5" fill="#000"/>
<text x="107.2" y="1513" font-size="11" text-anchor="middle" textLength="39" lengthAdjust="spacingAndGlyphs" stroke="#000" stroke-width="0.12">23 Nov</text>
<text x="175.4" y="1513" font-size="11" text-anchor="middle" textLength="39" lengthAdjust="spacingAndGlyphs" stroke="#000" stroke-width="0.12">30 Nov</text>
<text x="243.7" y="1513" font-size="11" text-anchor="middle" textLength="31" lengthAdjust="spacingAndGlyphs" stroke="#000" stroke-width="0.12">7 Déc</text>
<text x="311.9" y="1513" font-size="11" text-anchor="middle" textLength="38" lengthAdjust="spacingAndGlyphs" stroke="#000" stroke-width="0.12">14 Déc</text>
<text x="380.2" y="1513" font-size="11" text-anchor="middle" textLength="38" lengthAdjust="spacingAndGlyphs" stroke="#000" stroke-width="0.12">21 Déc</text>
<text x="448.4" y="1513" font-size="11" text-anchor="middle" textLength="38" lengthAdjust="spacingAndGlyphs" stroke="#000" stroke-width="0.12">29 Déc</text>
<text x="516.7" y="1513" font-size="11" text-anchor="middle" textLength="34" lengthAdjust="spacingAndGlyphs" stroke="#000" stroke-width="0.12">6 Janv</text>
<text x="584.9" y="1513" font-size="11" text-anchor="middle" textLength="41" lengthAdjust="spacingAndGlyphs" stroke="#000" stroke-width="0.12">13 Janv</text>
<text x="653.2" y="1513" font-size="11" text-anchor="middle" textLength="41" lengthAdjust="spacingAndGlyphs" stroke="#000" stroke-width="0.12">20 Janv</text>
<text x="721.4" y="1513" font-size="11" text-anchor="middle" textLength="41" lengthAdjust="spacingAndGlyphs" stroke="#000" stroke-width="0.12">27 Janv</text>
<text x="789.6" y="1513" font-size="11" text-anchor="middle" textLength="30" lengthAdjust="spacingAndGlyphs" stroke="#000" stroke-width="0.12">3 Fév</text>
<text x="857.9" y="1513" font-size="11" text-anchor="middle" textLength="37" lengthAdjust="spacingAndGlyphs" stroke="#000" stroke-width="0.12">10 Fév</text>
<text x="926.1" y="1513" font-size="11" text-anchor="middle" textLength="37" lengthAdjust="spacingAndGlyphs" stroke="#000" stroke-width="0.12">17 Fév</text>
<text x="994.4" y="1513" font-size="11" text-anchor="middle" textLength="37" lengthAdjust="spacingAndGlyphs" stroke="#000" stroke-width="0.12">24 Fév</text>
<text x="1062.6" y="1513" font-size="11" text-anchor="middle" textLength="37" lengthAdjust="spacingAndGlyphs" stroke="#000" stroke-width="0.12">2 Mars</text>
<text x="1130.9" y="1513" font-size="11" text-anchor="middle" textLength="37" lengthAdjust="spacingAndGlyphs" stroke="#000" stroke-width="0.12">9 Mars</text>
<text x="626.5" y="1524.7" font-size="11" text-anchor="middle" textLength="268" lengthAdjust="spacingAndGlyphs" stroke="#000" stroke-width="0.12">Date (du 23 Novembre 2015 au 10 Mars 2016)</text>
<text x="67" y="1410.5" font-size="11" text-anchor="middle" textLength="36" lengthAdjust="spacingAndGlyphs" transform="rotate(-90 67 1410.5)" stroke="#000" stroke-width="0.12">MACD</text>
<text x="111" y="1295" font-size="25.5" text-anchor="start" textLength="938" lengthAdjust="spacingAndGlyphs">Altran Technologies: graphique du MACD - MACD(12,26,9) - AnalyBourse.com</text>
</svg>
</body></html>
